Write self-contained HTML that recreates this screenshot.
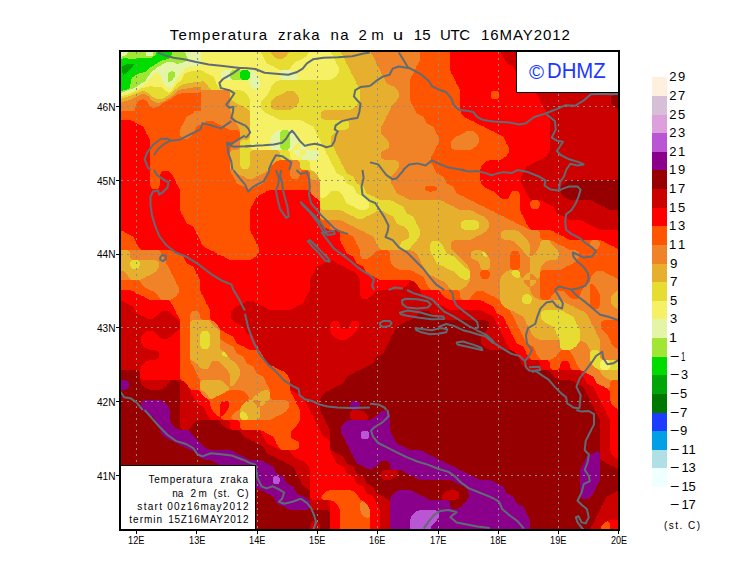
<!DOCTYPE html>
<html><head><meta charset="utf-8"><title>Temperatura zraka na 2m</title>
<style>
html,body{margin:0;padding:0;background:#fff;}
body{width:740px;height:582px;position:relative;overflow:hidden;font-family:"Liberation Sans",sans-serif;color:#000;}
.title{position:absolute;left:0;top:25px;width:740px;text-align:center;font-size:14.5px;letter-spacing:2.3px;word-spacing:3px;white-space:nowrap;}
.ax{position:absolute;font-size:11px;line-height:14px;white-space:nowrap;transform:scaleX(0.82);}
.lg{position:absolute;left:670px;font-size:13px;line-height:16px;white-space:nowrap;}
.info{position:absolute;left:121px;top:465px;width:134px;height:63px;background:#fff;border-top:1px solid #000;border-right:1px solid #000;font-size:10px;line-height:13.7px;text-align:right;letter-spacing:0.8px;box-sizing:content-box;}
.info div{padding-right:7px;white-space:nowrap;}
.dhmz{position:absolute;left:517px;top:52px;width:101px;height:40px;background:#fff;border-left:1px solid #000;border-bottom:1px solid #000;color:#1432ff;font-size:20px;line-height:40px;white-space:nowrap;box-sizing:border-box;}
</style></head><body>
<div style="position:absolute;top:24.60px;font-size:15px;line-height:20px;white-space:pre;left:169.70px;letter-spacing:1.330px;">Temperatura</div><div style="position:absolute;top:24.60px;font-size:15px;line-height:20px;white-space:pre;left:278.00px;letter-spacing:1.237px;">zraka</div><div style="position:absolute;top:24.60px;font-size:15px;line-height:20px;white-space:pre;left:330.62px;letter-spacing:1.250px;">na</div><div style="position:absolute;top:24.60px;font-size:15px;line-height:20px;white-space:pre;left:358.45px;letter-spacing:4.375px;">2m</div><div style="position:absolute;top:24.60px;font-size:15px;line-height:20px;white-space:pre;left:392.51px;transform:scaleX(1.2093);transform-origin:0 0;">u</div><div style="position:absolute;top:24.60px;font-size:15px;line-height:20px;white-space:pre;left:413.68px;letter-spacing:0.275px;">15</div><div style="position:absolute;top:24.60px;font-size:15px;line-height:20px;white-space:pre;left:439.98px;letter-spacing:-0.388px;">UTC</div><div style="position:absolute;top:24.60px;font-size:15px;line-height:20px;white-space:pre;left:481.07px;letter-spacing:0.931px;">16MAY2012</div>
<svg style="position:absolute;left:120px;top:50px" width="500" height="480" viewBox="0 0 500 480" shape-rendering="crispEdges">
<g stroke-width="1" fill="none">
<rect x="0" y="0" width="500" height="480" fill="#960000"/><path stroke="#E4F5A8" d="M0 0.5h9M65 0.5h16M0 1.5h8M65 1.5h16M0 2.5h8M26 2.5h7M65 2.5h16M0 3.5h7M26 3.5h7M66 3.5h15M0 4.5h7M26 4.5h7M66 4.5h15M0 5.5h5M26 5.5h7M66 5.5h15M0 6.5h2M67 6.5h14M67 7.5h14M68 8.5h13M67 9.5h14M66 10.5h15M65 11.5h16M46 12.5h8M63 12.5h18M44 13.5h12M59 13.5h22M42 14.5h39M41 15.5h38M39 16.5h30M37 17.5h30M36 18.5h29M35 19.5h29M33 20.5h31M104 20.5h8M128 20.5h3M162 20.5h9M32 21.5h19M53 21.5h10M102 21.5h9M129 21.5h5M161 21.5h13M31 22.5h6M39 22.5h10M55 22.5h7M101 22.5h9M130 22.5h5M160 22.5h15M30 23.5h5M39 23.5h9M55 23.5h6M101 23.5h9M130 23.5h6M160 23.5h16M30 24.5h4M40 24.5h8M55 24.5h5M101 24.5h9M130 24.5h7M160 24.5h17M29 25.5h4M40 25.5h8M55 25.5h5M101 25.5h9M130 25.5h8M160 25.5h17M28 26.5h4M41 26.5h7M55 26.5h4M101 26.5h9M130 26.5h8M160 26.5h18M27 27.5h4M41 27.5h7M54 27.5h4M101 27.5h9M130 27.5h9M160 27.5h18M27 28.5h3M42 28.5h6M53 28.5h4M102 28.5h9M129 28.5h10M161 28.5h17M26 29.5h3M42 29.5h6M53 29.5h3M104 29.5h8M128 29.5h12M162 29.5h15M26 30.5h2M42 30.5h6M52 30.5h4M128 30.5h12M25 31.5h2M43 31.5h5M50 31.5h5M129 31.5h11M23 32.5h3M43 32.5h11M130 32.5h10M21 33.5h4M44 33.5h10M130 33.5h10M20 34.5h4M44 34.5h9M130 34.5h10M18 35.5h5M45 35.5h8M130 35.5h10M17 36.5h4M47 36.5h5M131 36.5h8M15 37.5h4M49 37.5h1M131 37.5h8M13 38.5h4M132 38.5h6M10 39.5h5M7 40.5h6M5 41.5h6M2 42.5h6M0 43.5h4M159 80.5h3M168 80.5h3M156 81.5h5M169 81.5h5M155 82.5h5M170 82.5h5M154 83.5h6M170 83.5h6M153 84.5h7M170 84.5h7M152 85.5h8M170 85.5h8M151 86.5h9M170 86.5h8M151 87.5h9M170 87.5h9M151 88.5h9M170 88.5h9M150 89.5h10M170 89.5h9M150 90.5h10M170 90.5h10M150 91.5h10M170 91.5h9M150 92.5h10M170 92.5h9M150 93.5h10M170 93.5h7M150 94.5h10M170 94.5h6M180 94.5h3M150 95.5h10M170 95.5h5M180 95.5h4M150 96.5h10M170 96.5h4M180 96.5h5M150 97.5h10M170 97.5h3M180 97.5h6M151 98.5h10M169 98.5h4M180 98.5h7M152 99.5h10M168 99.5h4M180 99.5h7M174 100.5h6M186 100.5h10M174 101.5h6M186 101.5h12M174 102.5h6M186 102.5h13M175 103.5h5M185 103.5h14M176 104.5h4M184 104.5h15M177 105.5h3M183 105.5h16M179 106.5h1M181 106.5h18M181 107.5h18M181 108.5h17M183 109.5h13"/>
<path stroke="#A0E632" d="M9 0.5h28M52 0.5h13M8 1.5h29M52 1.5h13M8 2.5h18M33 2.5h3M52 2.5h13M7 3.5h19M33 3.5h3M52 3.5h14M7 4.5h19M33 4.5h3M52 4.5h14M5 5.5h21M33 5.5h2M51 5.5h15M2 6.5h31M50 6.5h17M0 7.5h32M50 7.5h17M0 8.5h3M8 8.5h8M49 8.5h19M46 9.5h21M42 10.5h24M40 11.5h25M38 12.5h8M54 12.5h9M37 13.5h7M56 13.5h3M35 14.5h7M34 15.5h7M32 16.5h7M30 17.5h7M29 18.5h7M28 19.5h7M27 20.5h6M112 20.5h10M26 21.5h6M51 21.5h2M111 21.5h10M23 22.5h8M49 22.5h6M110 22.5h10M19 23.5h11M48 23.5h7M110 23.5h10M17 24.5h13M48 24.5h7M110 24.5h10M15 25.5h14M48 25.5h7M110 25.5h10M14 26.5h14M48 26.5h7M110 26.5h10M12 27.5h15M48 27.5h6M110 27.5h10M12 28.5h15M48 28.5h5M111 28.5h10M11 29.5h15M48 29.5h5M112 29.5h10M11 30.5h15M48 30.5h4M11 31.5h14M48 31.5h2M11 32.5h12M11 33.5h10M10 34.5h10M10 35.5h8M10 36.5h7M10 37.5h5M9 38.5h4M7 39.5h3M3 40.5h4M0 41.5h5M0 42.5h2M162 80.5h6M161 81.5h8M160 82.5h10M160 83.5h10M160 84.5h10M160 85.5h10M160 86.5h10M160 87.5h10M160 88.5h10M160 89.5h10M160 90.5h10M160 91.5h10M160 92.5h10M160 93.5h10M160 94.5h10M160 95.5h10M160 96.5h10M160 97.5h10M161 98.5h8M162 99.5h6"/>
<path stroke="#00DC00" d="M37 0.5h15M37 1.5h15M36 2.5h16M36 3.5h16M36 4.5h16M35 5.5h16M33 6.5h17M32 7.5h18M3 8.5h5M16 8.5h33M0 9.5h46M0 10.5h42M0 11.5h40M0 12.5h38M0 13.5h37M0 14.5h6M14 14.5h21M0 15.5h4M13 15.5h21M0 16.5h2M13 16.5h19M0 17.5h2M12 17.5h18M0 18.5h2M11 18.5h18M0 19.5h2M10 19.5h18M0 20.5h2M9 20.5h18M122 20.5h6M0 21.5h2M8 21.5h18M121 21.5h8M0 22.5h2M7 22.5h16M120 22.5h10M0 23.5h3M6 23.5h13M120 23.5h10M0 24.5h3M4 24.5h13M120 24.5h10M0 25.5h15M120 25.5h10M0 26.5h14M120 26.5h10M0 27.5h12M120 27.5h10M0 28.5h12M121 28.5h8M0 29.5h11M122 29.5h6M0 30.5h11M0 31.5h11M0 32.5h11M0 33.5h11M0 34.5h10M0 35.5h10M0 36.5h10M0 37.5h10M0 38.5h9M0 39.5h7M0 40.5h3"/>
<path stroke="#F5F064" d="M81 0.5h59M190 0.5h20M81 1.5h60M189 1.5h22M81 2.5h60M189 2.5h22M81 3.5h60M188 3.5h23M81 4.5h61M187 4.5h25M81 5.5h62M187 5.5h26M81 6.5h62M186 6.5h27M81 7.5h63M184 7.5h30M81 8.5h63M183 8.5h31M81 9.5h64M181 9.5h34M81 10.5h64M179 10.5h36M81 11.5h65M176 11.5h40M81 12.5h65M175 12.5h41M81 13.5h66M174 13.5h42M81 14.5h68M173 14.5h44M79 15.5h72M172 15.5h46M69 16.5h85M171 16.5h47M67 17.5h88M171 17.5h48M65 18.5h92M170 18.5h49M64 19.5h95M169 19.5h50M64 20.5h14M81 20.5h23M131 20.5h31M171 20.5h48M63 21.5h8M84 21.5h18M134 21.5h27M174 21.5h45M37 22.5h2M62 22.5h5M85 22.5h16M135 22.5h25M175 22.5h44M35 23.5h4M61 23.5h4M87 23.5h14M136 23.5h24M176 23.5h42M34 24.5h6M60 24.5h4M89 24.5h12M137 24.5h23M177 24.5h40M33 25.5h7M60 25.5h4M91 25.5h10M138 25.5h22M177 25.5h40M32 26.5h9M59 26.5h4M93 26.5h8M138 26.5h22M178 26.5h38M31 27.5h10M58 27.5h5M94 27.5h7M139 27.5h21M178 27.5h36M30 28.5h12M57 28.5h5M94 28.5h8M139 28.5h22M178 28.5h35M29 29.5h13M56 29.5h6M95 29.5h9M140 29.5h22M177 29.5h34M28 30.5h14M56 30.5h5M95 30.5h33M140 30.5h19M27 31.5h16M55 31.5h5M96 31.5h33M140 31.5h16M26 32.5h17M54 32.5h4M96 32.5h34M140 32.5h15M25 33.5h19M54 33.5h3M96 33.5h34M140 33.5h14M24 34.5h20M53 34.5h3M97 34.5h33M140 34.5h13M23 35.5h22M53 35.5h3M98 35.5h32M140 35.5h12M21 36.5h8M33 36.5h14M52 36.5h3M98 36.5h33M139 36.5h12M19 37.5h6M42 37.5h7M50 37.5h4M99 37.5h32M139 37.5h12M17 38.5h4M43 38.5h10M100 38.5h32M138 38.5h13M15 39.5h4M44 39.5h9M101 39.5h49M13 40.5h4M45 40.5h7M121 40.5h29M11 41.5h4M47 41.5h4M124 41.5h25M8 42.5h5M48 42.5h1M125 42.5h24M4 43.5h7M126 43.5h22M0 44.5h8M127 44.5h20M0 45.5h4M128 45.5h19M128 46.5h18M129 47.5h16M129 48.5h15M130 49.5h13M130 50.5h12M130 51.5h11M130 52.5h11M130 53.5h11M130 54.5h11M130 55.5h11M130 56.5h11M130 57.5h11M130 58.5h11M130 59.5h12M130 60.5h13M130 61.5h14M130 62.5h15M130 63.5h17M130 64.5h19M130 65.5h21M130 66.5h24M130 67.5h25M130 68.5h27M130 69.5h29M130 70.5h51M130 71.5h54M130 72.5h55M130 73.5h57M130 74.5h59M130 75.5h61M130 76.5h63M130 77.5h64M130 78.5h64M130 79.5h65M130 80.5h29M171 80.5h24M130 81.5h26M174 81.5h22M130 82.5h25M175 82.5h21M130 83.5h24M176 83.5h20M130 84.5h23M177 84.5h20M130 85.5h22M178 85.5h20M130 86.5h21M178 86.5h20M130 87.5h21M179 87.5h20M130 88.5h21M179 88.5h20M130 89.5h20M179 89.5h21M130 90.5h20M180 90.5h20M130 91.5h20M179 91.5h22M130 92.5h20M179 92.5h22M130 93.5h20M177 93.5h24M130 94.5h20M176 94.5h4M183 94.5h19M130 95.5h20M175 95.5h5M184 95.5h19M130 96.5h20M174 96.5h6M185 96.5h18M130 97.5h20M173 97.5h7M186 97.5h18M131 98.5h20M173 98.5h7M187 98.5h17M132 99.5h20M172 99.5h8M187 99.5h18M168 100.5h6M180 100.5h6M196 100.5h9M169 101.5h5M180 101.5h6M198 101.5h8M170 102.5h4M180 102.5h6M199 102.5h7M170 103.5h5M180 103.5h5M199 103.5h7M170 104.5h6M180 104.5h4M199 104.5h8M170 105.5h7M180 105.5h3M199 105.5h9M170 106.5h9M180 106.5h1M199 106.5h9M170 107.5h11M199 107.5h10M171 108.5h10M198 108.5h11M172 109.5h11M196 109.5h14M188 110.5h22M189 111.5h22M190 112.5h21M190 113.5h21M190 114.5h22M190 115.5h23M190 116.5h23M190 117.5h24M190 118.5h24M191 119.5h24M192 120.5h23M194 121.5h22M195 122.5h21M196 123.5h21M197 124.5h22M198 125.5h23M198 126.5h25M199 127.5h25M199 128.5h25M200 129.5h25M200 130.5h25M200 131.5h26M200 132.5h26M200 133.5h27M200 134.5h29M200 135.5h31M200 136.5h33M200 137.5h34M200 138.5h34M200 139.5h35M200 140.5h35M200 141.5h11M219 141.5h17M200 142.5h10M220 142.5h16M200 143.5h9M221 143.5h16M200 144.5h8M222 144.5h17M200 145.5h7M223 145.5h18M200 146.5h6M223 146.5h21M201 147.5h3M224 147.5h21M224 148.5h22M225 149.5h22M225 150.5h23M226 151.5h22M226 152.5h23M227 153.5h22M229 154.5h20M231 155.5h18M234 156.5h15M235 157.5h14M237 158.5h11M239 159.5h7M482 310.5h6M481 311.5h8M480 312.5h10M480 313.5h10M480 314.5h10M480 315.5h10M480 316.5h10M480 317.5h10M481 318.5h8M482 319.5h6"/>
<path stroke="#E6DC32" d="M140 0.5h10M170 0.5h20M210 0.5h10M141 1.5h10M169 1.5h20M211 1.5h10M141 2.5h10M169 2.5h20M211 2.5h10M141 3.5h10M168 3.5h20M211 3.5h10M142 4.5h10M167 4.5h20M212 4.5h10M143 5.5h10M167 5.5h20M213 5.5h10M143 6.5h11M166 6.5h20M213 6.5h10M144 7.5h11M164 7.5h20M214 7.5h10M144 8.5h13M163 8.5h20M214 8.5h10M145 9.5h36M215 9.5h10M145 10.5h34M215 10.5h10M146 11.5h30M216 11.5h10M146 12.5h29M216 12.5h10M147 13.5h27M216 13.5h10M149 14.5h24M217 14.5h10M151 15.5h21M218 15.5h10M154 16.5h17M218 16.5h10M155 17.5h16M219 17.5h10M157 18.5h13M219 18.5h10M159 19.5h10M219 19.5h11M78 20.5h3M219 20.5h11M71 21.5h13M219 21.5h12M67 22.5h18M219 22.5h12M65 23.5h22M218 23.5h13M64 24.5h25M217 24.5h15M64 25.5h27M217 25.5h16M63 26.5h30M216 26.5h17M63 27.5h31M214 27.5h20M62 28.5h32M213 28.5h21M62 29.5h33M211 29.5h24M61 30.5h34M159 30.5h76M60 31.5h21M84 31.5h12M156 31.5h80M58 32.5h15M85 32.5h11M155 32.5h81M57 33.5h10M86 33.5h10M154 33.5h82M56 34.5h7M87 34.5h10M153 34.5h84M56 35.5h5M88 35.5h10M152 35.5h86M29 36.5h4M55 36.5h4M88 36.5h10M151 36.5h87M25 37.5h17M54 37.5h4M89 37.5h10M151 37.5h88M21 38.5h22M53 38.5h4M90 38.5h10M151 38.5h88M19 39.5h25M53 39.5h2M91 39.5h10M150 39.5h90M17 40.5h28M52 40.5h2M108 40.5h13M150 40.5h90M15 41.5h6M25 41.5h22M51 41.5h2M109 41.5h15M149 41.5h17M174 41.5h66M13 42.5h6M27 42.5h21M49 42.5h3M110 42.5h15M149 42.5h16M175 42.5h65M11 43.5h5M29 43.5h22M110 43.5h16M148 43.5h15M176 43.5h64M8 44.5h6M30 44.5h20M110 44.5h17M147 44.5h14M177 44.5h63M4 45.5h7M31 45.5h17M110 45.5h18M147 45.5h12M178 45.5h62M0 46.5h8M32 46.5h14M110 46.5h18M146 46.5h10M178 46.5h62M0 47.5h5M34 47.5h11M110 47.5h19M145 47.5h10M179 47.5h61M0 48.5h2M36 48.5h7M110 48.5h19M144 48.5h10M179 48.5h61M111 49.5h19M143 49.5h10M179 49.5h61M112 50.5h18M142 50.5h10M179 50.5h61M114 51.5h16M141 51.5h10M179 51.5h60M115 52.5h15M141 52.5h10M179 52.5h60M117 53.5h13M141 53.5h10M178 53.5h60M119 54.5h11M141 54.5h10M177 54.5h60M121 55.5h9M141 55.5h10M177 55.5h60M124 56.5h6M141 56.5h10M176 56.5h60M125 57.5h5M141 57.5h10M174 57.5h60M127 58.5h3M141 58.5h11M173 58.5h60M128 59.5h2M142 59.5h12M171 59.5h60M129 60.5h1M143 60.5h61M144 61.5h58M145 62.5h56M147 63.5h54M149 64.5h52M151 65.5h50M154 66.5h47M155 67.5h46M157 68.5h45M159 69.5h45M181 70.5h45M184 71.5h44M185 72.5h44M187 73.5h42M189 74.5h40M191 75.5h38M193 76.5h36M194 77.5h35M194 78.5h34M195 79.5h31M195 80.5h24M196 81.5h20M196 82.5h19M196 83.5h18M197 84.5h16M198 85.5h14M198 86.5h13M199 87.5h12M129 88.5h1M199 88.5h12M128 89.5h2M200 89.5h11M122 90.5h8M200 90.5h11M121 91.5h9M201 91.5h10M120 92.5h10M201 92.5h10M120 93.5h10M201 93.5h10M120 94.5h10M202 94.5h10M120 95.5h10M203 95.5h10M120 96.5h10M203 96.5h10M120 97.5h10M204 97.5h10M120 98.5h11M204 98.5h10M120 99.5h12M205 99.5h10M120 100.5h12M158 100.5h10M205 100.5h10M120 101.5h11M159 101.5h10M206 101.5h10M120 102.5h10M160 102.5h10M206 102.5h10M120 103.5h10M160 103.5h10M206 103.5h10M120 104.5h10M160 104.5h10M207 104.5h10M120 105.5h10M160 105.5h10M208 105.5h10M120 106.5h10M160 106.5h10M208 106.5h10M120 107.5h10M160 107.5h10M209 107.5h10M120 108.5h10M161 108.5h10M209 108.5h10M120 109.5h10M162 109.5h10M210 109.5h10M120 110.5h10M178 110.5h10M210 110.5h10M120 111.5h10M179 111.5h10M211 111.5h10M120 112.5h10M180 112.5h10M211 112.5h10M120 113.5h10M180 113.5h10M211 113.5h10M120 114.5h10M180 114.5h10M212 114.5h10M120 115.5h10M180 115.5h10M213 115.5h10M121 116.5h8M180 116.5h10M213 116.5h10M121 117.5h8M180 117.5h10M214 117.5h10M122 118.5h6M181 118.5h9M214 118.5h10M182 119.5h9M215 119.5h10M191 120.5h1M215 120.5h10M216 121.5h10M216 122.5h10M217 123.5h10M219 124.5h10M221 125.5h10M223 126.5h10M224 127.5h10M224 128.5h10M225 129.5h10M225 130.5h10M226 131.5h10M226 132.5h10M227 133.5h10M229 134.5h10M231 135.5h10M233 136.5h10M234 137.5h10M234 138.5h10M235 139.5h10M235 140.5h10M211 141.5h8M236 141.5h10M210 142.5h10M236 142.5h10M209 143.5h12M237 143.5h10M208 144.5h14M239 144.5h10M207 145.5h16M241 145.5h10M206 146.5h17M244 146.5h10M200 147.5h1M204 147.5h20M245 147.5h10M200 148.5h24M246 148.5h11M200 149.5h25M247 149.5h12M200 150.5h25M248 150.5h23M200 151.5h26M248 151.5h26M200 152.5h26M249 152.5h26M200 153.5h27M249 153.5h28M200 154.5h29M249 154.5h30M200 155.5h31M249 155.5h32M200 156.5h34M249 156.5h34M200 157.5h35M249 157.5h35M201 158.5h36M248 158.5h36M202 159.5h37M246 159.5h39M221 160.5h64M224 161.5h32M264 161.5h22M225 162.5h30M265 162.5h21M227 163.5h26M267 163.5h20M229 164.5h22M269 164.5h20M231 165.5h18M271 165.5h20M234 166.5h12M273 166.5h20M235 167.5h10M274 167.5h20M237 168.5h6M274 168.5h20M275 169.5h20M275 170.5h20M344 170.5h12M276 171.5h20M342 171.5h16M276 172.5h20M341 172.5h18M277 173.5h19M341 173.5h18M279 174.5h18M341 174.5h18M281 175.5h17M341 175.5h18M284 176.5h14M341 176.5h18M285 177.5h14M341 177.5h18M286 178.5h13M342 178.5h16M287 179.5h13M344 179.5h12M288 180.5h12M288 181.5h12M289 182.5h11M289 183.5h11M289 184.5h11M289 185.5h11M289 186.5h10M289 187.5h10M288 188.5h10M286 189.5h11M284 190.5h13M282 191.5h14M312 191.5h7M281 192.5h14M311 192.5h9M281 193.5h13M311 193.5h10M280 194.5h13M310 194.5h12M280 195.5h12M310 195.5h13M280 196.5h11M310 196.5h13M280 197.5h11M310 197.5h14M281 198.5h9M310 198.5h14M282 199.5h7M310 199.5h15M310 200.5h15M311 201.5h15M311 202.5h15M362 202.5h3M311 203.5h16M362 203.5h4M312 204.5h17M362 204.5h4M313 205.5h18M363 205.5h4M313 206.5h21M365 206.5h2M314 207.5h21M314 208.5h22M315 209.5h22M12 210.5h6M315 210.5h23M11 211.5h8M316 211.5h23M10 212.5h10M316 212.5h24M10 213.5h10M317 213.5h24M10 214.5h10M319 214.5h23M10 215.5h10M321 215.5h22M11 216.5h8M324 216.5h20M11 217.5h8M325 217.5h20M12 218.5h6M327 218.5h20M329 219.5h19M331 220.5h18M393 220.5h5M334 221.5h16M392 221.5h7M335 222.5h15M391 222.5h9M336 223.5h14M392 223.5h8M337 224.5h13M392 224.5h8M338 225.5h12M393 225.5h7M339 226.5h11M394 226.5h6M340 227.5h10M396 227.5h3M342 228.5h7M344 229.5h4M405 244.5h4M403 245.5h7M403 246.5h8M402 247.5h10M402 248.5h10M402 249.5h10M402 250.5h10M402 251.5h9M403 252.5h8M404 253.5h6M424 260.5h17M422 261.5h22M421 262.5h24M421 263.5h26M421 264.5h28M421 265.5h30M421 266.5h32M421 267.5h33M421 268.5h33M422 269.5h33M423 270.5h32M424 271.5h32M425 272.5h31M427 273.5h29M429 274.5h28M431 275.5h27M433 276.5h25M434 277.5h25M434 278.5h25M435 279.5h25M435 280.5h25M82 281.5h6M436 281.5h24M81 282.5h8M436 282.5h24M81 283.5h8M436 283.5h24M80 284.5h10M437 284.5h23M80 285.5h10M438 285.5h22M80 286.5h10M438 286.5h22M80 287.5h10M439 287.5h21M80 288.5h10M439 288.5h21M80 289.5h10M440 289.5h20M80 290.5h10M440 290.5h20M80 291.5h10M440 291.5h19M80 292.5h10M440 292.5h19M80 293.5h10M440 293.5h18M80 294.5h10M440 294.5h17M80 295.5h10M440 295.5h17M81 296.5h8M440 296.5h16M81 297.5h8M440 297.5h14M82 298.5h6M441 298.5h12M442 299.5h9M472 300.5h6M471 301.5h8M102 302.5h3M470 302.5h10M102 303.5h4M470 303.5h10M102 304.5h4M470 304.5h10M103 305.5h4M470 305.5h10M105 306.5h2M470 306.5h10M470 307.5h10M470 308.5h11M470 309.5h12M470 310.5h12M488 310.5h12M471 311.5h10M489 311.5h11M471 312.5h9M490 312.5h10M471 313.5h9M490 313.5h10M472 314.5h8M490 314.5h10M473 315.5h7M490 315.5h10M474 316.5h6M490 316.5h10M475 317.5h5M490 317.5h10M477 318.5h4M489 318.5h11M479 319.5h3M488 319.5h12M122 361.5h1M121 362.5h4M120 363.5h6M120 364.5h7M120 365.5h7M120 366.5h8M120 367.5h8M121 368.5h7M122 369.5h5"/>
<path stroke="#E6AF2D" d="M150 0.5h20M220 0.5h30M151 1.5h18M221 1.5h30M151 2.5h18M221 2.5h30M151 3.5h17M221 3.5h30M152 4.5h15M222 4.5h30M153 5.5h14M223 5.5h30M154 6.5h12M223 6.5h30M155 7.5h9M224 7.5h30M157 8.5h6M224 8.5h30M225 9.5h30M225 10.5h30M226 11.5h30M226 12.5h30M226 13.5h30M227 14.5h30M228 15.5h30M228 16.5h30M229 17.5h30M229 18.5h30M230 19.5h30M230 20.5h30M231 21.5h30M231 22.5h30M231 23.5h30M232 24.5h30M233 25.5h30M233 26.5h30M234 27.5h30M234 28.5h30M235 29.5h30M235 30.5h30M81 31.5h3M236 31.5h30M73 32.5h12M236 32.5h30M67 33.5h19M236 33.5h31M63 34.5h24M237 34.5h32M61 35.5h27M238 35.5h33M59 36.5h29M238 36.5h36M58 37.5h15M81 37.5h8M239 37.5h36M57 38.5h10M81 38.5h9M239 38.5h37M55 39.5h6M81 39.5h10M240 39.5h37M54 40.5h4M240 40.5h38M21 41.5h4M53 41.5h4M166 41.5h8M240 41.5h38M19 42.5h8M52 42.5h4M165 42.5h10M240 42.5h39M16 43.5h13M51 43.5h4M163 43.5h13M240 43.5h39M14 44.5h7M25 44.5h5M50 44.5h4M161 44.5h16M240 44.5h39M11 45.5h8M27 45.5h4M48 45.5h5M159 45.5h19M240 45.5h39M8 46.5h9M29 46.5h3M46 46.5h5M156 46.5h22M240 46.5h39M5 47.5h10M30 47.5h4M45 47.5h5M155 47.5h24M240 47.5h39M2 48.5h11M30 48.5h6M43 48.5h5M154 48.5h25M240 48.5h38M0 49.5h11M31 49.5h15M110 49.5h1M153 49.5h26M240 49.5h37M0 50.5h8M32 50.5h13M110 50.5h2M152 50.5h27M240 50.5h37M0 51.5h4M34 51.5h9M110 51.5h4M151 51.5h28M239 51.5h37M36 52.5h4M110 52.5h5M151 52.5h28M239 52.5h36M110 53.5h7M151 53.5h27M238 53.5h36M110 54.5h9M151 54.5h26M237 54.5h36M110 55.5h11M151 55.5h26M237 55.5h35M110 56.5h14M151 56.5h25M236 56.5h35M110 57.5h15M151 57.5h23M234 57.5h37M110 58.5h17M152 58.5h21M233 58.5h38M110 59.5h18M154 59.5h17M231 59.5h39M110 60.5h19M204 60.5h66M111 61.5h19M202 61.5h67M111 62.5h19M201 62.5h68M111 63.5h19M201 63.5h67M112 64.5h18M201 64.5h67M113 65.5h17M201 65.5h66M113 66.5h17M201 66.5h65M114 67.5h16M201 67.5h65M114 68.5h16M202 68.5h64M115 69.5h15M204 69.5h61M115 70.5h15M226 70.5h39M116 71.5h14M228 71.5h36M116 72.5h14M229 72.5h35M116 73.5h14M229 73.5h34M117 74.5h13M229 74.5h34M118 75.5h12M229 75.5h33M118 76.5h12M229 76.5h32M119 77.5h11M229 77.5h32M119 78.5h11M228 78.5h33M120 79.5h10M226 79.5h35M120 80.5h10M219 80.5h42M120 81.5h10M216 81.5h45M120 82.5h10M215 82.5h46M120 83.5h10M214 83.5h47M120 84.5h10M213 84.5h49M120 85.5h10M212 85.5h51M120 86.5h10M211 86.5h53M120 87.5h10M211 87.5h54M120 88.5h9M211 88.5h55M120 89.5h8M211 89.5h56M120 90.5h2M211 90.5h57M120 91.5h1M211 91.5h57M211 92.5h58M211 93.5h58M212 94.5h57M213 95.5h56M213 96.5h56M214 97.5h55M119 98.5h1M214 98.5h54M118 99.5h2M215 99.5h51M112 100.5h8M132 100.5h26M215 100.5h49M111 101.5h9M131 101.5h28M216 101.5h46M110 102.5h10M130 102.5h30M216 102.5h45M110 103.5h10M130 103.5h30M216 103.5h45M110 104.5h10M130 104.5h30M217 104.5h44M110 105.5h10M130 105.5h30M218 105.5h43M110 106.5h10M130 106.5h30M218 106.5h43M110 107.5h10M130 107.5h30M219 107.5h42M110 108.5h10M130 108.5h31M219 108.5h43M110 109.5h10M130 109.5h32M220 109.5h44M110 110.5h10M130 110.5h29M220 110.5h56M110 111.5h10M130 111.5h26M221 111.5h57M110 112.5h10M130 112.5h25M221 112.5h58M110 113.5h10M130 113.5h24M221 113.5h58M110 114.5h10M130 114.5h23M222 114.5h57M110 115.5h10M130 115.5h22M223 115.5h56M110 116.5h11M129 116.5h22M223 116.5h56M110 117.5h11M129 117.5h22M224 117.5h55M110 118.5h12M128 118.5h22M224 118.5h54M111 119.5h39M225 119.5h52M112 120.5h36M188 120.5h3M225 120.5h52M114 121.5h32M189 121.5h5M226 121.5h50M115 122.5h30M190 122.5h5M226 122.5h49M117 123.5h26M190 123.5h6M227 123.5h47M119 124.5h22M190 124.5h7M229 124.5h44M121 125.5h18M190 125.5h8M231 125.5h41M124 126.5h12M190 126.5h8M233 126.5h38M125 127.5h10M190 127.5h9M234 127.5h37M127 128.5h6M191 128.5h8M234 128.5h37M192 129.5h8M235 129.5h36M198 130.5h2M235 130.5h36M199 131.5h1M236 131.5h35M236 132.5h35M237 133.5h34M239 134.5h33M241 135.5h32M243 136.5h30M244 137.5h30M244 138.5h30M245 139.5h30M245 140.5h30M246 141.5h30M246 142.5h30M247 143.5h30M249 144.5h30M251 145.5h30M254 146.5h30M255 147.5h30M257 148.5h30M259 149.5h30M271 150.5h50M274 151.5h50M275 152.5h50M277 153.5h50M279 154.5h50M281 155.5h50M283 156.5h51M284 157.5h51M200 158.5h1M284 158.5h53M200 159.5h2M285 159.5h54M200 160.5h21M285 160.5h66M200 161.5h24M256 161.5h8M286 161.5h68M200 162.5h25M255 162.5h10M286 162.5h69M200 163.5h27M253 163.5h14M287 163.5h70M200 164.5h29M251 164.5h18M289 164.5h70M200 165.5h31M249 165.5h22M291 165.5h70M200 166.5h34M246 166.5h27M293 166.5h71M200 167.5h35M245 167.5h29M294 167.5h71M201 168.5h36M243 168.5h31M294 168.5h72M202 169.5h73M295 169.5h72M221 170.5h54M295 170.5h49M356 170.5h12M224 171.5h52M296 171.5h46M358 171.5h10M225 172.5h51M296 172.5h45M359 172.5h10M227 173.5h50M296 173.5h45M359 173.5h10M229 174.5h50M297 174.5h44M359 174.5h10M231 175.5h50M298 175.5h43M359 175.5h10M234 176.5h50M298 176.5h43M359 176.5h10M235 177.5h50M299 177.5h42M359 177.5h10M237 178.5h49M299 178.5h43M358 178.5h10M239 179.5h48M300 179.5h44M356 179.5h11M241 180.5h47M300 180.5h67M384 180.5h12M244 181.5h44M300 181.5h66M382 181.5h17M245 182.5h44M300 182.5h64M381 182.5h19M247 183.5h42M300 183.5h63M381 183.5h20M249 184.5h40M300 184.5h61M381 184.5h21M251 185.5h38M300 185.5h59M381 185.5h22M253 186.5h36M299 186.5h57M381 186.5h23M254 187.5h35M299 187.5h56M381 187.5h24M254 188.5h34M298 188.5h55M382 188.5h24M255 189.5h31M297 189.5h54M384 189.5h23M255 190.5h29M297 190.5h37M391 190.5h17M422 190.5h7M256 191.5h26M296 191.5h16M319 191.5h13M394 191.5h14M421 191.5h9M256 192.5h25M295 192.5h16M320 192.5h11M395 192.5h14M420 192.5h11M256 193.5h25M294 193.5h17M321 193.5h10M396 193.5h13M420 193.5h11M257 194.5h23M293 194.5h17M322 194.5h9M397 194.5h13M420 194.5h12M258 195.5h22M292 195.5h18M323 195.5h8M398 195.5h12M420 195.5h13M258 196.5h22M291 196.5h19M323 196.5h8M399 196.5h11M419 196.5h15M259 197.5h21M291 197.5h19M324 197.5h7M400 197.5h10M419 197.5h16M260 198.5h21M290 198.5h20M324 198.5h7M401 198.5h9M418 198.5h18M261 199.5h21M289 199.5h21M325 199.5h7M402 199.5h8M418 199.5h19M0 200.5h8M291 200.5h19M325 200.5h8M354 200.5h7M403 200.5h7M417 200.5h21M0 201.5h9M294 201.5h17M326 201.5h8M352 201.5h12M403 201.5h7M416 201.5h22M0 202.5h10M295 202.5h16M326 202.5h9M351 202.5h11M404 202.5h6M416 202.5h23M0 203.5h10M296 203.5h15M327 203.5h9M351 203.5h11M405 203.5h5M415 203.5h24M0 204.5h10M297 204.5h15M329 204.5h8M351 204.5h11M366 204.5h1M406 204.5h4M414 204.5h25M0 205.5h10M298 205.5h15M331 205.5h7M351 205.5h12M367 205.5h1M407 205.5h3M413 205.5h26M0 206.5h10M298 206.5h15M334 206.5h5M351 206.5h14M367 206.5h1M408 206.5h31M0 207.5h10M299 207.5h15M335 207.5h5M351 207.5h18M410 207.5h29M0 208.5h11M299 208.5h15M336 208.5h5M352 208.5h17M410 208.5h28M0 209.5h12M300 209.5h15M337 209.5h5M354 209.5h16M410 209.5h26M0 210.5h12M18 210.5h18M300 210.5h15M338 210.5h5M356 210.5h14M410 210.5h19M0 211.5h11M19 211.5h19M301 211.5h15M339 211.5h5M358 211.5h12M410 211.5h16M0 212.5h10M20 212.5h19M301 212.5h15M340 212.5h5M359 212.5h11M410 212.5h15M0 213.5h10M20 213.5h19M301 213.5h16M341 213.5h5M359 213.5h11M410 213.5h14M0 214.5h10M20 214.5h19M302 214.5h17M342 214.5h5M360 214.5h10M410 214.5h13M0 215.5h10M20 215.5h19M303 215.5h18M343 215.5h5M360 215.5h10M410 215.5h12M0 216.5h11M19 216.5h20M303 216.5h21M344 216.5h4M360 216.5h10M410 216.5h11M0 217.5h11M19 217.5h20M304 217.5h21M345 217.5h4M360 217.5h10M410 217.5h11M0 218.5h12M18 218.5h20M304 218.5h23M347 218.5h2M361 218.5h8M410 218.5h11M0 219.5h37M305 219.5h24M348 219.5h2M362 219.5h6M410 219.5h10M1 220.5h36M305 220.5h26M349 220.5h1M389 220.5h4M410 220.5h10M4 221.5h32M306 221.5h28M386 221.5h6M410 221.5h10M5 222.5h29M306 222.5h29M385 222.5h6M409 222.5h11M6 223.5h27M307 223.5h29M384 223.5h8M407 223.5h13M7 224.5h24M309 224.5h28M383 224.5h9M406 224.5h4M413 224.5h7M8 225.5h21M311 225.5h27M382 225.5h11M405 225.5h5M414 225.5h6M8 226.5h18M314 226.5h25M381 226.5h13M400 226.5h1M404 226.5h6M415 226.5h5M9 227.5h16M315 227.5h25M381 227.5h15M399 227.5h2M403 227.5h7M416 227.5h3M10 228.5h13M317 228.5h25M349 228.5h1M381 228.5h29M417 228.5h1M11 229.5h10M319 229.5h25M348 229.5h2M380 229.5h30M321 230.5h29M380 230.5h24M410 230.5h6M324 231.5h25M380 231.5h24M410 231.5h6M325 232.5h24M380 232.5h24M410 232.5h6M326 233.5h22M380 233.5h25M410 233.5h5M327 234.5h20M380 234.5h26M410 234.5h4M328 235.5h19M380 235.5h27M410 235.5h3M328 236.5h18M380 236.5h28M329 237.5h15M380 237.5h30M330 238.5h13M380 238.5h30M331 239.5h10M380 239.5h30M380 240.5h30M499 240.5h1M380 241.5h31M496 241.5h4M380 242.5h31M495 242.5h5M380 243.5h31M494 243.5h6M380 244.5h25M409 244.5h3M493 244.5h7M380 245.5h23M410 245.5h3M492 245.5h8M380 246.5h23M411 246.5h3M491 246.5h9M380 247.5h22M412 247.5h3M491 247.5h9M380 248.5h22M412 248.5h5M491 248.5h9M380 249.5h22M412 249.5h7M491 249.5h9M380 250.5h22M412 250.5h29M491 250.5h9M381 251.5h21M411 251.5h33M491 251.5h9M381 252.5h22M411 252.5h34M491 252.5h9M381 253.5h23M410 253.5h37M491 253.5h9M382 254.5h67M492 254.5h8M383 255.5h68M493 255.5h7M384 256.5h70M494 256.5h6M385 257.5h70M495 257.5h5M387 258.5h70M497 258.5h3M389 259.5h70M499 259.5h1M391 260.5h33M441 260.5h20M394 261.5h28M444 261.5h20M395 262.5h26M445 262.5h20M397 263.5h24M447 263.5h19M399 264.5h22M449 264.5h18M401 265.5h20M451 265.5h17M403 266.5h18M453 266.5h15M404 267.5h17M454 267.5h15M404 268.5h17M454 268.5h15M405 269.5h17M455 269.5h15M72 270.5h17M405 270.5h18M455 270.5h15M71 271.5h19M406 271.5h18M456 271.5h15M70 272.5h21M406 272.5h19M456 272.5h15M70 273.5h21M406 273.5h21M456 273.5h15M70 274.5h22M407 274.5h22M457 274.5h15M70 275.5h23M408 275.5h23M458 275.5h15M70 276.5h24M408 276.5h25M458 276.5h15M70 277.5h25M409 277.5h25M459 277.5h15M70 278.5h27M409 278.5h25M459 278.5h15M70 279.5h28M410 279.5h25M460 279.5h15M70 280.5h29M410 280.5h25M460 280.5h15M70 281.5h12M88 281.5h12M411 281.5h25M460 281.5h16M70 282.5h11M89 282.5h11M411 282.5h25M460 282.5h16M70 283.5h11M89 283.5h11M411 283.5h25M460 283.5h16M70 284.5h10M90 284.5h10M412 284.5h25M460 284.5h17M70 285.5h10M90 285.5h10M413 285.5h25M460 285.5h18M70 286.5h10M90 286.5h10M414 286.5h24M460 286.5h18M70 287.5h10M90 287.5h10M415 287.5h24M460 287.5h19M70 288.5h10M90 288.5h10M417 288.5h22M460 288.5h19M70 289.5h10M90 289.5h10M419 289.5h21M460 289.5h20M70 290.5h10M90 290.5h10M438 290.5h2M460 290.5h20M70 291.5h10M90 291.5h10M439 291.5h1M459 291.5h1M463 291.5h17M70 292.5h10M90 292.5h10M465 292.5h15M70 293.5h10M90 293.5h10M466 293.5h14M70 294.5h10M90 294.5h10M467 294.5h13M70 295.5h10M90 295.5h10M468 295.5h12M70 296.5h11M89 296.5h11M468 296.5h12M70 297.5h11M89 297.5h11M469 297.5h11M70 298.5h12M88 298.5h12M469 298.5h11M70 299.5h31M470 299.5h10M70 300.5h32M470 300.5h2M478 300.5h2M70 301.5h34M470 301.5h1M479 301.5h1M70 302.5h32M70 303.5h32M70 304.5h32M106 304.5h1M70 305.5h33M107 305.5h1M70 306.5h35M107 306.5h1M70 307.5h39M70 308.5h40M71 309.5h39M72 310.5h40M74 311.5h18M99 311.5h15M75 312.5h16M100 312.5h15M76 313.5h15M101 313.5h15M77 314.5h13M102 314.5h15M78 315.5h12M103 315.5h15M79 316.5h10M104 316.5h14M80 317.5h9M105 317.5h14M82 318.5h6M106 318.5h13M107 319.5h13M478 319.5h1M108 320.5h12M480 320.5h20M108 321.5h12M480 321.5h20M109 322.5h11M481 322.5h19M109 323.5h11M481 323.5h19M110 324.5h10M482 324.5h18M110 325.5h10M483 325.5h17M110 326.5h9M484 326.5h16M110 327.5h9M485 327.5h15M110 328.5h8M487 328.5h13M110 329.5h8M489 329.5h11M82 330.5h19M110 330.5h7M81 331.5h22M110 331.5h6M80 332.5h24M110 332.5h6M80 333.5h25M110 333.5h5M80 334.5h26M110 334.5h4M80 335.5h27M110 335.5h3M80 336.5h28M80 337.5h29M80 338.5h29M81 339.5h28M82 340.5h26M144 340.5h4M84 341.5h22M141 341.5h8M85 342.5h20M140 342.5h10M86 343.5h17M138 343.5h12M87 344.5h14M137 344.5h13M88 345.5h11M135 345.5h15M88 346.5h8M134 346.5h16M89 347.5h6M133 347.5h17M90 348.5h3M133 348.5h17M132 349.5h17M129 350.5h5M138 350.5h10M126 351.5h8M139 351.5h8M125 352.5h9M140 352.5h6M124 353.5h11M140 353.5h5M123 354.5h13M140 354.5h4M122 355.5h15M140 355.5h3M121 356.5h17M121 357.5h19M121 358.5h19M120 359.5h20M120 360.5h20M120 361.5h2M123 361.5h17M120 362.5h1M125 362.5h15M126 363.5h14M127 364.5h13M127 365.5h13M128 366.5h12M128 367.5h12M128 368.5h11M127 369.5h11"/>
<path stroke="#F08228" d="M250 0.5h50M251 1.5h49M251 2.5h49M251 3.5h49M252 4.5h48M253 5.5h47M253 6.5h47M254 7.5h46M254 8.5h46M255 9.5h45M255 10.5h45M256 11.5h43M256 12.5h43M256 13.5h42M257 14.5h41M258 15.5h39M258 16.5h38M259 17.5h37M259 18.5h37M260 19.5h35M260 20.5h35M261 21.5h33M261 22.5h33M261 23.5h32M262 24.5h31M263 25.5h29M263 26.5h28M264 27.5h27M264 28.5h27M265 29.5h25M265 30.5h25M266 31.5h24M266 32.5h24M267 33.5h23M269 34.5h21M271 35.5h19M274 36.5h16M73 37.5h8M275 37.5h15M67 38.5h14M276 38.5h14M61 39.5h20M277 39.5h13M58 40.5h50M278 40.5h12M57 41.5h52M278 41.5h12M56 42.5h23M81 42.5h29M279 42.5h11M55 43.5h6M81 43.5h29M279 43.5h11M21 44.5h4M54 44.5h3M81 44.5h29M279 44.5h11M19 45.5h8M53 45.5h3M81 45.5h29M279 45.5h11M17 46.5h12M51 46.5h3M81 46.5h29M279 46.5h11M15 47.5h15M50 47.5h3M81 47.5h29M279 47.5h11M13 48.5h17M48 48.5h4M81 48.5h29M278 48.5h12M11 49.5h11M24 49.5h7M46 49.5h4M81 49.5h29M277 49.5h13M8 50.5h11M26 50.5h6M45 50.5h3M81 50.5h29M277 50.5h13M4 51.5h14M27 51.5h7M43 51.5h3M81 51.5h29M276 51.5h15M0 52.5h17M28 52.5h8M40 52.5h4M81 52.5h29M275 52.5h16M0 53.5h17M28 53.5h14M81 53.5h29M274 53.5h17M0 54.5h16M29 54.5h12M81 54.5h29M273 54.5h19M0 55.5h16M29 55.5h11M81 55.5h29M272 55.5h21M0 56.5h16M30 56.5h8M81 56.5h29M271 56.5h22M0 57.5h15M32 57.5h3M81 57.5h29M271 57.5h23M0 58.5h15M81 58.5h29M271 58.5h23M0 59.5h15M81 59.5h29M270 59.5h25M0 60.5h15M81 60.5h29M270 60.5h25M74 61.5h37M269 61.5h27M74 62.5h37M269 62.5h27M73 63.5h38M268 63.5h29M71 64.5h41M268 64.5h31M69 65.5h44M267 65.5h34M67 66.5h46M266 66.5h37M66 67.5h48M266 67.5h38M66 68.5h48M266 68.5h38M65 69.5h50M265 69.5h40M65 70.5h50M265 70.5h40M64 71.5h22M94 71.5h22M264 71.5h42M64 72.5h21M95 72.5h21M264 72.5h42M63 73.5h20M97 73.5h19M263 73.5h44M63 74.5h18M99 74.5h18M263 74.5h46M62 75.5h17M101 75.5h17M262 75.5h49M61 76.5h16M104 76.5h14M261 76.5h52M61 77.5h15M105 77.5h14M261 77.5h53M61 78.5h15M107 78.5h12M261 78.5h53M60 79.5h15M109 79.5h11M261 79.5h54M60 80.5h15M118 80.5h2M261 80.5h54M60 81.5h14M119 81.5h1M261 81.5h55M346 81.5h8M60 82.5h14M261 82.5h55M345 82.5h10M60 83.5h13M261 83.5h55M343 83.5h13M60 84.5h12M262 84.5h55M341 84.5h16M60 85.5h12M263 85.5h55M339 85.5h19M61 86.5h10M264 86.5h54M336 86.5h22M61 87.5h8M265 87.5h54M335 87.5h24M62 88.5h6M266 88.5h53M334 88.5h25M119 89.5h1M267 89.5h52M333 89.5h26M118 90.5h2M268 90.5h51M332 90.5h27M116 91.5h4M268 91.5h51M331 91.5h28M115 92.5h5M269 92.5h50M331 92.5h28M114 93.5h6M269 93.5h49M331 93.5h27M113 94.5h7M269 94.5h49M331 94.5h26M112 95.5h8M269 95.5h48M331 95.5h26M111 96.5h9M269 96.5h47M331 96.5h25M111 97.5h9M269 97.5h47M331 97.5h23M111 98.5h8M268 98.5h48M332 98.5h21M110 99.5h8M266 99.5h49M334 99.5h17M110 100.5h2M264 100.5h51M110 101.5h1M262 101.5h52M261 102.5h53M261 103.5h52M261 104.5h52M261 105.5h51M261 106.5h50M261 107.5h50M262 108.5h49M264 109.5h47M168 110.5h10M276 110.5h35M169 111.5h10M278 111.5h33M170 112.5h10M279 112.5h32M170 113.5h10M279 113.5h32M170 114.5h10M279 114.5h33M170 115.5h10M279 115.5h34M170 116.5h10M279 116.5h34M170 117.5h10M279 117.5h35M150 118.5h1M170 118.5h11M278 118.5h36M110 119.5h1M170 119.5h12M277 119.5h38M110 120.5h2M148 120.5h2M170 120.5h12M277 120.5h38M111 121.5h3M146 121.5h3M170 121.5h11M276 121.5h40M111 122.5h4M145 122.5h4M170 122.5h10M275 122.5h41M111 123.5h6M143 123.5h5M170 123.5h10M274 123.5h43M112 124.5h7M141 124.5h7M170 124.5h10M273 124.5h46M113 125.5h8M139 125.5h8M170 125.5h10M272 125.5h49M113 126.5h11M136 126.5h10M171 126.5h8M271 126.5h52M114 127.5h11M135 127.5h11M171 127.5h8M271 127.5h53M114 128.5h13M133 128.5h13M172 128.5h6M190 128.5h1M271 128.5h53M115 129.5h30M190 129.5h2M271 129.5h54M115 130.5h30M190 130.5h8M271 130.5h54M116 131.5h28M190 131.5h9M271 131.5h55M116 132.5h28M190 132.5h10M271 132.5h55M117 133.5h26M190 133.5h10M271 133.5h56M119 134.5h22M190 134.5h10M272 134.5h57M121 135.5h18M190 135.5h10M273 135.5h58M124 136.5h12M190 136.5h10M273 136.5h33M315 136.5h18M125 137.5h10M190 137.5h10M274 137.5h31M317 137.5h17M127 138.5h6M190 138.5h10M274 138.5h31M317 138.5h17M190 139.5h10M275 139.5h30M317 139.5h18M190 140.5h10M275 140.5h31M316 140.5h19M191 141.5h9M276 141.5h33M312 141.5h24M191 142.5h9M276 142.5h60M191 143.5h9M277 143.5h60M192 144.5h8M279 144.5h60M193 145.5h7M281 145.5h60M194 146.5h6M284 146.5h60M195 147.5h5M285 147.5h60M197 148.5h3M287 148.5h60M198 149.5h2M289 149.5h60M199 150.5h1M321 150.5h30M324 151.5h30M325 152.5h30M327 153.5h30M329 154.5h30M331 155.5h30M334 156.5h30M335 157.5h30M337 158.5h30M339 159.5h30M351 160.5h20M354 161.5h20M355 162.5h20M357 163.5h20M359 164.5h20M361 165.5h20M364 166.5h20M365 167.5h20M366 168.5h21M367 169.5h22M208 170.5h13M368 170.5h23M209 171.5h15M368 171.5h26M210 172.5h15M369 172.5h26M210 173.5h17M369 173.5h28M210 174.5h19M369 174.5h30M210 175.5h21M369 175.5h32M210 176.5h24M369 176.5h35M210 177.5h25M369 177.5h36M211 178.5h26M368 178.5h39M212 179.5h27M367 179.5h42M221 180.5h20M367 180.5h17M396 180.5h22M224 181.5h20M366 181.5h16M399 181.5h20M225 182.5h20M364 182.5h17M400 182.5h20M227 183.5h20M363 183.5h18M401 183.5h19M229 184.5h20M361 184.5h20M402 184.5h18M231 185.5h20M359 185.5h22M403 185.5h17M233 186.5h20M356 186.5h25M404 186.5h16M234 187.5h20M355 187.5h26M405 187.5h15M234 188.5h20M353 188.5h29M406 188.5h15M235 189.5h20M351 189.5h33M407 189.5h15M235 190.5h20M334 190.5h57M408 190.5h14M429 190.5h2M472 190.5h6M236 191.5h20M332 191.5h62M408 191.5h13M430 191.5h4M471 191.5h8M236 192.5h20M331 192.5h64M409 192.5h11M431 192.5h4M470 192.5h10M236 193.5h20M331 193.5h65M409 193.5h11M431 193.5h6M470 193.5h10M237 194.5h20M331 194.5h66M410 194.5h10M432 194.5h7M470 194.5h10M238 195.5h20M331 195.5h67M410 195.5h10M433 195.5h8M470 195.5h10M238 196.5h20M331 196.5h68M410 196.5h9M434 196.5h10M471 196.5h8M239 197.5h20M331 197.5h69M410 197.5h9M435 197.5h10M471 197.5h8M239 198.5h21M331 198.5h70M410 198.5h8M436 198.5h11M472 198.5h6M240 199.5h21M332 199.5h70M410 199.5h8M437 199.5h12M8 200.5h31M240 200.5h19M268 200.5h23M333 200.5h21M361 200.5h42M410 200.5h7M438 200.5h18M9 201.5h31M240 201.5h16M269 201.5h25M334 201.5h18M364 201.5h28M398 201.5h5M410 201.5h6M438 201.5h20M10 202.5h31M240 202.5h15M270 202.5h25M335 202.5h16M365 202.5h26M399 202.5h5M410 202.5h6M439 202.5h20M10 203.5h31M240 203.5h14M270 203.5h26M336 203.5h15M366 203.5h25M399 203.5h6M410 203.5h5M439 203.5h20M10 204.5h32M240 204.5h13M270 204.5h27M337 204.5h14M367 204.5h23M400 204.5h6M410 204.5h4M439 204.5h20M10 205.5h33M240 205.5h12M270 205.5h28M338 205.5h13M368 205.5h22M400 205.5h7M410 205.5h3M439 205.5h20M10 206.5h33M241 206.5h10M270 206.5h28M339 206.5h12M368 206.5h22M400 206.5h8M439 206.5h20M10 207.5h34M241 207.5h8M270 207.5h29M340 207.5h11M369 207.5h21M400 207.5h10M439 207.5h20M11 208.5h33M242 208.5h6M270 208.5h29M341 208.5h11M369 208.5h21M400 208.5h10M438 208.5h20M12 209.5h33M270 209.5h30M342 209.5h12M370 209.5h20M400 209.5h10M436 209.5h21M36 210.5h9M270 210.5h30M343 210.5h13M370 210.5h20M400 210.5h10M429 210.5h28M38 211.5h8M271 211.5h30M344 211.5h14M370 211.5h20M400 211.5h10M426 211.5h30M39 212.5h7M271 212.5h30M345 212.5h14M370 212.5h20M400 212.5h10M425 212.5h29M39 213.5h7M271 213.5h30M346 213.5h13M370 213.5h20M400 213.5h10M424 213.5h29M39 214.5h8M272 214.5h30M347 214.5h13M370 214.5h20M400 214.5h10M423 214.5h28M39 215.5h9M273 215.5h30M348 215.5h12M370 215.5h20M400 215.5h10M422 215.5h27M39 216.5h9M274 216.5h29M348 216.5h12M370 216.5h20M400 216.5h10M421 216.5h25M39 217.5h10M275 217.5h29M349 217.5h11M370 217.5h20M400 217.5h10M421 217.5h24M38 218.5h11M277 218.5h27M349 218.5h12M369 218.5h22M399 218.5h11M421 218.5h22M37 219.5h13M279 219.5h26M350 219.5h12M368 219.5h24M398 219.5h12M420 219.5h21M0 220.5h1M37 220.5h13M291 220.5h14M350 220.5h12M368 220.5h21M398 220.5h12M420 220.5h2M0 221.5h4M36 221.5h15M294 221.5h12M350 221.5h11M369 221.5h17M399 221.5h11M420 221.5h1M476 221.5h8M0 222.5h5M34 222.5h17M295 222.5h11M350 222.5h10M370 222.5h15M400 222.5h9M475 222.5h10M0 223.5h6M33 223.5h18M297 223.5h10M350 223.5h10M370 223.5h14M400 223.5h7M474 223.5h13M0 224.5h7M31 224.5h21M299 224.5h10M350 224.5h10M370 224.5h13M400 224.5h6M410 224.5h3M473 224.5h16M0 225.5h8M29 225.5h24M301 225.5h10M350 225.5h10M370 225.5h12M400 225.5h5M410 225.5h4M472 225.5h19M0 226.5h8M26 226.5h27M303 226.5h11M350 226.5h11M369 226.5h12M401 226.5h3M410 226.5h5M471 226.5h23M0 227.5h9M25 227.5h29M304 227.5h11M350 227.5h11M369 227.5h12M401 227.5h2M410 227.5h6M419 227.5h1M471 227.5h24M0 228.5h10M23 228.5h31M304 228.5h13M350 228.5h12M368 228.5h13M410 228.5h7M418 228.5h2M471 228.5h26M0 229.5h11M21 229.5h34M305 229.5h14M350 229.5h30M410 229.5h10M470 229.5h29M19 230.5h36M305 230.5h16M350 230.5h30M404 230.5h6M416 230.5h4M470 230.5h30M20 231.5h36M306 231.5h18M349 231.5h31M404 231.5h6M416 231.5h4M470 231.5h30M21 232.5h35M306 232.5h19M349 232.5h31M404 232.5h6M416 232.5h4M469 232.5h31M21 233.5h35M306 233.5h20M348 233.5h32M405 233.5h5M415 233.5h5M467 233.5h33M22 234.5h35M307 234.5h20M347 234.5h33M406 234.5h4M414 234.5h6M466 234.5h4M473 234.5h27M23 235.5h35M308 235.5h20M347 235.5h33M407 235.5h3M413 235.5h7M466 235.5h4M474 235.5h26M24 236.5h34M308 236.5h20M346 236.5h34M408 236.5h12M465 236.5h5M475 236.5h25M25 237.5h34M309 237.5h20M344 237.5h36M410 237.5h10M464 237.5h6M476 237.5h24M27 238.5h32M310 238.5h20M343 238.5h37M410 238.5h10M463 238.5h7M476 238.5h24M29 239.5h30M311 239.5h20M341 239.5h39M410 239.5h10M463 239.5h7M477 239.5h23M31 240.5h28M338 240.5h42M410 240.5h10M462 240.5h8M478 240.5h21M34 241.5h25M339 241.5h17M364 241.5h16M411 241.5h9M436 241.5h8M461 241.5h9M478 241.5h18M35 242.5h24M340 242.5h15M365 242.5h15M411 242.5h9M435 242.5h10M461 242.5h9M479 242.5h16M36 243.5h22M340 243.5h14M367 243.5h13M411 243.5h9M434 243.5h12M461 243.5h9M479 243.5h15M37 244.5h20M340 244.5h13M369 244.5h11M412 244.5h8M433 244.5h14M460 244.5h10M480 244.5h13M38 245.5h19M340 245.5h12M371 245.5h9M413 245.5h7M432 245.5h16M460 245.5h10M480 245.5h12M38 246.5h18M340 246.5h11M374 246.5h6M414 246.5h6M431 246.5h18M459 246.5h11M480 246.5h11M39 247.5h15M340 247.5h11M375 247.5h5M415 247.5h5M431 247.5h19M459 247.5h11M480 247.5h11M40 248.5h13M341 248.5h9M377 248.5h3M417 248.5h4M430 248.5h22M458 248.5h12M480 248.5h11M41 249.5h10M342 249.5h7M378 249.5h2M419 249.5h3M429 249.5h41M480 249.5h11M441 250.5h29M480 250.5h11M380 251.5h1M444 251.5h26M480 251.5h11M445 252.5h25M480 252.5h11M447 253.5h23M480 253.5h11M449 254.5h21M480 254.5h12M451 255.5h19M480 255.5h13M454 256.5h17M479 256.5h15M455 257.5h16M479 257.5h16M457 258.5h15M478 258.5h19M388 259.5h1M459 259.5h40M390 260.5h1M461 260.5h39M72 261.5h6M390 261.5h4M464 261.5h36M71 262.5h8M391 262.5h4M465 262.5h35M71 263.5h8M391 263.5h6M466 263.5h34M70 264.5h10M392 264.5h7M467 264.5h33M70 265.5h10M393 265.5h8M468 265.5h32M70 266.5h10M393 266.5h10M468 266.5h32M70 267.5h10M394 267.5h10M469 267.5h31M70 268.5h11M394 268.5h10M469 268.5h31M70 269.5h12M395 269.5h10M470 269.5h30M70 270.5h2M89 270.5h2M395 270.5h10M470 270.5h14M70 271.5h1M90 271.5h4M396 271.5h10M471 271.5h11M91 272.5h4M396 272.5h10M471 272.5h10M91 273.5h5M396 273.5h10M471 273.5h10M92 274.5h5M397 274.5h10M472 274.5h9M93 275.5h5M398 275.5h10M473 275.5h8M94 276.5h4M398 276.5h10M473 276.5h8M95 277.5h4M399 277.5h10M474 277.5h7M97 278.5h2M399 278.5h10M474 278.5h7M98 279.5h2M400 279.5h10M475 279.5h7M99 280.5h1M400 280.5h10M475 280.5h8M401 281.5h10M476 281.5h8M401 282.5h10M476 282.5h9M401 283.5h10M476 283.5h10M402 284.5h10M477 284.5h10M403 285.5h10M478 285.5h10M403 286.5h11M478 286.5h10M404 287.5h11M479 287.5h10M404 288.5h13M479 288.5h10M100 289.5h1M405 289.5h14M480 289.5h10M100 290.5h2M405 290.5h33M480 290.5h10M100 291.5h4M406 291.5h33M460 291.5h3M480 291.5h11M100 292.5h5M406 292.5h34M459 292.5h6M480 292.5h11M100 293.5h7M407 293.5h33M458 293.5h8M480 293.5h11M100 294.5h9M409 294.5h31M457 294.5h10M480 294.5h12M100 295.5h11M411 295.5h29M457 295.5h11M480 295.5h13M100 296.5h13M413 296.5h27M456 296.5h12M480 296.5h14M100 297.5h14M414 297.5h26M454 297.5h15M480 297.5h15M100 298.5h14M414 298.5h27M453 298.5h16M480 298.5h17M101 299.5h14M415 299.5h27M451 299.5h19M480 299.5h19M102 300.5h13M415 300.5h26M449 300.5h21M480 300.5h20M104 301.5h12M416 301.5h24M450 301.5h20M480 301.5h20M105 302.5h11M416 302.5h23M451 302.5h19M480 302.5h20M106 303.5h11M416 303.5h22M451 303.5h19M480 303.5h20M107 304.5h12M417 304.5h20M452 304.5h18M480 304.5h20M108 305.5h13M418 305.5h19M453 305.5h17M480 305.5h20M108 306.5h15M418 306.5h18M453 306.5h17M480 306.5h20M109 307.5h15M419 307.5h15M454 307.5h16M480 307.5h20M110 308.5h14M420 308.5h13M454 308.5h16M481 308.5h19M70 309.5h1M110 309.5h15M421 309.5h10M455 309.5h15M482 309.5h18M70 310.5h2M112 310.5h13M455 310.5h15M71 311.5h3M92 311.5h7M114 311.5h12M456 311.5h15M71 312.5h4M91 312.5h9M115 312.5h11M456 312.5h15M71 313.5h5M91 313.5h10M116 313.5h11M456 313.5h15M72 314.5h5M90 314.5h12M117 314.5h12M457 314.5h15M73 315.5h5M90 315.5h13M118 315.5h13M458 315.5h15M73 316.5h6M89 316.5h15M118 316.5h15M458 316.5h16M74 317.5h6M89 317.5h16M119 317.5h15M459 317.5h16M74 318.5h8M88 318.5h18M119 318.5h15M460 318.5h17M75 319.5h32M120 319.5h15M460 319.5h18M75 320.5h33M120 320.5h15M462 320.5h18M76 321.5h32M120 321.5h16M464 321.5h16M76 322.5h33M120 322.5h16M465 322.5h16M76 323.5h33M120 323.5h17M467 323.5h14M77 324.5h33M120 324.5h19M469 324.5h13M78 325.5h32M120 325.5h21M471 325.5h12M78 326.5h32M119 326.5h24M473 326.5h11M79 327.5h31M119 327.5h25M474 327.5h11M79 328.5h31M118 328.5h26M474 328.5h13M80 329.5h30M118 329.5h27M475 329.5h14M80 330.5h2M101 330.5h9M117 330.5h28M475 330.5h17M80 331.5h1M103 331.5h7M116 331.5h30M476 331.5h15M104 332.5h6M116 332.5h30M476 332.5h14M105 333.5h5M115 333.5h31M477 333.5h13M106 334.5h4M114 334.5h33M479 334.5h11M107 335.5h3M113 335.5h35M481 335.5h9M108 336.5h40M484 336.5h6M109 337.5h40M485 337.5h4M109 338.5h40M80 339.5h1M109 339.5h41M80 340.5h2M108 340.5h1M121 340.5h23M148 340.5h2M81 341.5h3M124 341.5h17M149 341.5h1M81 342.5h4M125 342.5h15M81 343.5h5M126 343.5h12M82 344.5h5M127 344.5h10M83 345.5h5M128 345.5h7M84 346.5h4M128 346.5h6M85 347.5h4M129 347.5h4M87 348.5h3M129 348.5h4M150 348.5h1M128 349.5h4M149 349.5h3M128 350.5h1M134 350.5h4M148 350.5h18M134 351.5h5M147 351.5h21M134 352.5h6M146 352.5h23M135 353.5h5M145 353.5h24M136 354.5h4M144 354.5h25M137 355.5h3M143 355.5h26M138 356.5h31M140 357.5h29M120 358.5h1M140 358.5h28M140 359.5h27M118 360.5h2M140 360.5h27M116 361.5h4M140 361.5h26M115 362.5h5M140 362.5h24M114 363.5h6M140 363.5h23M113 364.5h7M140 364.5h21M112 365.5h8M140 365.5h19M112 366.5h8M140 366.5h16M111 367.5h9M140 367.5h15M112 368.5h9M139 368.5h14M113 369.5h9M138 369.5h13M242 451.5h1M241 452.5h4M240 453.5h6M240 454.5h7M240 455.5h8M240 456.5h8M240 457.5h9M240 458.5h9M240 459.5h10M240 460.5h10M241 461.5h9M241 462.5h9M241 463.5h9M242 464.5h8M243 465.5h7M244 466.5h6M246 467.5h3"/>
<path stroke="#FF5500" d="M300 0.5h30M300 1.5h30M300 2.5h30M300 3.5h30M300 4.5h30M300 5.5h30M300 6.5h30M300 7.5h30M300 8.5h30M300 9.5h30M300 10.5h30M299 11.5h31M299 12.5h31M298 13.5h32M298 14.5h32M297 15.5h33M296 16.5h34M296 17.5h34M296 18.5h34M295 19.5h35M295 20.5h35M294 21.5h37M294 22.5h37M293 23.5h38M293 24.5h39M292 25.5h41M291 26.5h42M291 27.5h43M291 28.5h43M290 29.5h45M290 30.5h45M290 31.5h46M290 32.5h46M290 33.5h46M290 34.5h47M290 35.5h48M290 36.5h48M290 37.5h49M290 38.5h49M290 39.5h50M290 40.5h50M290 41.5h50M372 41.5h6M79 42.5h2M290 42.5h50M371 42.5h8M61 43.5h20M290 43.5h50M371 43.5h8M57 44.5h24M290 44.5h50M371 44.5h8M56 45.5h25M290 45.5h50M371 45.5h8M54 46.5h27M290 46.5h50M371 46.5h8M53 47.5h28M290 47.5h50M371 47.5h8M52 48.5h29M290 48.5h50M372 48.5h6M22 49.5h2M50 49.5h31M290 49.5h50M19 50.5h7M48 50.5h33M290 50.5h50M18 51.5h9M46 51.5h35M291 51.5h49M17 52.5h11M44 52.5h37M291 52.5h49M17 53.5h11M42 53.5h39M291 53.5h49M16 54.5h13M41 54.5h40M292 54.5h48M16 55.5h13M40 55.5h41M293 55.5h47M16 56.5h14M38 56.5h43M293 56.5h47M15 57.5h17M35 57.5h46M294 57.5h46M15 58.5h66M294 58.5h46M15 59.5h66M295 59.5h45M15 60.5h66M295 60.5h45M0 61.5h74M296 61.5h45M0 62.5h74M296 62.5h45M0 63.5h73M297 63.5h44M0 64.5h71M299 64.5h43M0 65.5h69M301 65.5h42M0 66.5h67M303 66.5h41M0 67.5h66M304 67.5h41M0 68.5h66M304 68.5h43M0 69.5h65M305 69.5h44M11 70.5h54M305 70.5h46M14 71.5h50M86 71.5h8M306 71.5h48M15 72.5h49M85 72.5h10M306 72.5h49M17 73.5h46M83 73.5h14M307 73.5h50M19 74.5h44M81 74.5h18M309 74.5h50M21 75.5h41M79 75.5h22M311 75.5h50M23 76.5h38M77 76.5h27M313 76.5h51M24 77.5h37M76 77.5h29M314 77.5h51M24 78.5h37M76 78.5h31M314 78.5h53M25 79.5h35M75 79.5h34M315 79.5h54M25 80.5h35M75 80.5h43M315 80.5h56M26 81.5h34M74 81.5h45M316 81.5h30M354 81.5h20M26 82.5h34M74 82.5h46M316 82.5h29M355 82.5h20M26 83.5h34M73 83.5h47M316 83.5h27M356 83.5h21M27 84.5h33M72 84.5h48M317 84.5h24M357 84.5h22M28 85.5h32M72 85.5h48M318 85.5h21M358 85.5h23M28 86.5h33M71 86.5h49M318 86.5h18M358 86.5h25M29 87.5h32M69 87.5h51M319 87.5h16M359 87.5h25M29 88.5h33M68 88.5h52M319 88.5h15M359 88.5h25M30 89.5h89M319 89.5h14M359 89.5h26M30 90.5h88M319 90.5h13M359 90.5h26M30 91.5h86M319 91.5h12M359 91.5h27M30 92.5h85M319 92.5h12M359 92.5h27M30 93.5h84M318 93.5h13M358 93.5h28M30 94.5h83M318 94.5h13M357 94.5h30M30 95.5h82M317 95.5h14M357 95.5h31M30 96.5h81M316 96.5h15M356 96.5h32M30 97.5h81M316 97.5h15M354 97.5h35M30 98.5h81M316 98.5h16M353 98.5h36M30 99.5h80M315 99.5h19M351 99.5h38M30 100.5h80M315 100.5h74M30 101.5h80M314 101.5h75M30 102.5h80M314 102.5h75M30 103.5h80M313 103.5h75M30 104.5h80M313 104.5h74M30 105.5h80M312 105.5h75M30 106.5h80M311 106.5h75M30 107.5h80M311 107.5h73M30 108.5h80M311 108.5h72M30 109.5h80M311 109.5h70M30 110.5h80M159 110.5h9M311 110.5h58M30 111.5h80M156 111.5h13M311 111.5h55M30 112.5h80M155 112.5h15M311 112.5h54M30 113.5h80M154 113.5h16M311 113.5h53M30 114.5h80M153 114.5h17M312 114.5h51M30 115.5h80M152 115.5h18M313 115.5h49M30 116.5h80M151 116.5h19M313 116.5h48M30 117.5h80M151 117.5h19M314 117.5h47M30 118.5h80M151 118.5h19M314 118.5h47M30 119.5h80M150 119.5h20M315 119.5h45M30 120.5h80M150 120.5h20M182 120.5h6M315 120.5h45M30 121.5h12M49 121.5h62M149 121.5h21M181 121.5h8M316 121.5h44M30 122.5h11M50 122.5h61M149 122.5h21M180 122.5h10M316 122.5h44M30 123.5h11M51 123.5h60M148 123.5h22M180 123.5h10M317 123.5h43M30 124.5h10M52 124.5h60M148 124.5h22M180 124.5h10M319 124.5h41M30 125.5h10M53 125.5h60M147 125.5h23M180 125.5h10M321 125.5h39M30 126.5h10M53 126.5h60M146 126.5h25M179 126.5h11M323 126.5h37M30 127.5h10M54 127.5h60M146 127.5h25M179 127.5h11M324 127.5h36M30 128.5h10M54 128.5h60M146 128.5h26M178 128.5h12M324 128.5h36M30 129.5h10M55 129.5h60M145 129.5h45M325 129.5h35M30 130.5h10M55 130.5h60M145 130.5h45M325 130.5h35M30 131.5h10M56 131.5h60M144 131.5h46M326 131.5h35M30 132.5h10M56 132.5h60M144 132.5h46M326 132.5h35M30 133.5h10M56 133.5h61M143 133.5h47M327 133.5h34M30 134.5h10M57 134.5h62M141 134.5h49M329 134.5h33M30 135.5h10M58 135.5h63M139 135.5h51M331 135.5h32M31 136.5h8M58 136.5h66M136 136.5h54M306 136.5h9M333 136.5h31M31 137.5h8M59 137.5h66M135 137.5h55M305 137.5h12M334 137.5h31M32 138.5h6M59 138.5h68M133 138.5h57M305 138.5h12M334 138.5h33M60 139.5h130M305 139.5h12M335 139.5h34M60 140.5h89M189 140.5h1M306 140.5h10M335 140.5h36M60 141.5h86M190 141.5h1M309 141.5h3M336 141.5h38M392 141.5h6M60 142.5h85M336 142.5h39M391 142.5h8M60 143.5h83M337 143.5h39M391 143.5h8M60 144.5h81M339 144.5h38M390 144.5h10M60 145.5h79M341 145.5h37M390 145.5h10M60 146.5h77M344 146.5h35M389 146.5h11M60 147.5h76M345 147.5h35M389 147.5h11M60 148.5h76M347 148.5h35M388 148.5h12M60 149.5h75M349 149.5h51M60 150.5h75M351 150.5h49M412 150.5h6M60 151.5h74M354 151.5h46M411 151.5h8M60 152.5h74M355 152.5h45M410 152.5h10M60 153.5h73M357 153.5h43M410 153.5h10M60 154.5h73M359 154.5h41M410 154.5h10M60 155.5h72M361 155.5h39M410 155.5h10M60 156.5h71M364 156.5h36M411 156.5h8M60 157.5h71M365 157.5h35M411 157.5h8M60 158.5h71M367 158.5h33M412 158.5h6M60 159.5h70M369 159.5h31M60 160.5h70M371 160.5h29M61 161.5h69M374 161.5h27M61 162.5h69M375 162.5h26M61 163.5h69M377 163.5h24M62 164.5h68M379 164.5h23M63 165.5h67M381 165.5h22M63 166.5h67M384 166.5h19M64 167.5h66M385 167.5h19M64 168.5h66M200 168.5h1M387 168.5h17M65 169.5h65M200 169.5h2M389 169.5h16M65 170.5h65M200 170.5h8M391 170.5h14M66 171.5h64M201 171.5h8M394 171.5h12M66 172.5h64M201 172.5h9M395 172.5h11M67 173.5h63M201 173.5h9M397 173.5h9M69 174.5h61M202 174.5h8M399 174.5h8M71 175.5h59M203 175.5h7M401 175.5h7M73 176.5h57M204 176.5h6M404 176.5h4M74 177.5h56M205 177.5h5M405 177.5h4M74 178.5h56M207 178.5h4M407 178.5h3M75 179.5h55M209 179.5h3M409 179.5h2M0 180.5h1M75 180.5h55M218 180.5h3M418 180.5h13M0 181.5h4M76 181.5h55M219 181.5h5M419 181.5h15M0 182.5h5M76 182.5h55M220 182.5h5M420 182.5h15M0 183.5h7M76 183.5h55M220 183.5h7M420 183.5h17M0 184.5h9M77 184.5h55M220 184.5h9M420 184.5h19M0 185.5h11M78 185.5h55M220 185.5h11M420 185.5h21M0 186.5h13M78 186.5h55M220 186.5h13M420 186.5h24M0 187.5h14M79 187.5h55M220 187.5h14M420 187.5h25M0 188.5h14M79 188.5h55M220 188.5h14M421 188.5h26M0 189.5h15M80 189.5h55M220 189.5h15M422 189.5h27M0 190.5h15M80 190.5h55M220 190.5h15M431 190.5h41M478 190.5h3M0 191.5h16M81 191.5h55M221 191.5h15M434 191.5h37M479 191.5h5M0 192.5h16M81 192.5h55M221 192.5h15M435 192.5h35M480 192.5h5M0 193.5h16M81 193.5h55M221 193.5h15M437 193.5h33M480 193.5h7M0 194.5h17M82 194.5h55M222 194.5h15M439 194.5h31M480 194.5h9M0 195.5h18M83 195.5h55M223 195.5h15M441 195.5h29M480 195.5h11M0 196.5h18M84 196.5h54M223 196.5h15M444 196.5h27M479 196.5h15M0 197.5h19M85 197.5h54M224 197.5h15M445 197.5h26M479 197.5h16M0 198.5h20M87 198.5h52M224 198.5h15M447 198.5h25M478 198.5h19M0 199.5h21M89 199.5h50M225 199.5h15M449 199.5h50M39 200.5h12M91 200.5h48M225 200.5h15M259 200.5h9M456 200.5h44M40 201.5h14M94 201.5h45M226 201.5h14M256 201.5h13M392 201.5h6M458 201.5h42M41 202.5h14M95 202.5h44M226 202.5h14M255 202.5h15M391 202.5h8M459 202.5h41M41 203.5h16M97 203.5h41M227 203.5h13M254 203.5h16M391 203.5h8M459 203.5h41M42 204.5h17M99 204.5h38M229 204.5h11M253 204.5h17M390 204.5h10M459 204.5h41M43 205.5h18M101 205.5h36M231 205.5h9M252 205.5h18M390 205.5h10M459 205.5h41M43 206.5h20M104 206.5h32M233 206.5h8M251 206.5h19M390 206.5h10M459 206.5h41M44 207.5h20M105 207.5h29M234 207.5h7M249 207.5h21M390 207.5h10M459 207.5h41M44 208.5h20M107 208.5h26M234 208.5h8M248 208.5h22M390 208.5h10M458 208.5h42M45 209.5h20M109 209.5h22M235 209.5h35M390 209.5h10M457 209.5h43M45 210.5h20M235 210.5h35M390 210.5h10M457 210.5h43M46 211.5h20M236 211.5h35M390 211.5h10M456 211.5h44M46 212.5h20M236 212.5h35M390 212.5h10M454 212.5h46M46 213.5h21M237 213.5h34M390 213.5h10M453 213.5h47M47 214.5h22M239 214.5h33M390 214.5h10M451 214.5h49M48 215.5h23M241 215.5h32M390 215.5h10M449 215.5h51M48 216.5h25M243 216.5h31M390 216.5h10M446 216.5h54M49 217.5h25M244 217.5h31M390 217.5h10M445 217.5h55M49 218.5h25M244 218.5h33M391 218.5h8M443 218.5h57M50 219.5h25M245 219.5h34M392 219.5h6M441 219.5h59M50 220.5h25M245 220.5h46M362 220.5h6M422 220.5h78M51 221.5h25M246 221.5h48M361 221.5h8M421 221.5h55M484 221.5h16M51 222.5h25M246 222.5h49M360 222.5h10M420 222.5h55M485 222.5h15M51 223.5h25M247 223.5h50M360 223.5h10M420 223.5h54M487 223.5h13M52 224.5h25M249 224.5h50M360 224.5h10M420 224.5h53M489 224.5h11M53 225.5h25M251 225.5h50M360 225.5h10M420 225.5h52M491 225.5h9M53 226.5h25M254 226.5h49M361 226.5h8M420 226.5h51M494 226.5h6M54 227.5h25M255 227.5h49M361 227.5h8M420 227.5h51M495 227.5h5M54 228.5h25M257 228.5h47M362 228.5h6M420 228.5h51M497 228.5h3M55 229.5h25M259 229.5h46M420 229.5h50M499 229.5h1M0 230.5h19M55 230.5h25M291 230.5h14M420 230.5h50M0 231.5h20M56 231.5h24M294 231.5h12M420 231.5h50M0 232.5h21M56 232.5h24M295 232.5h11M420 232.5h49M0 233.5h21M56 233.5h24M296 233.5h10M420 233.5h47M0 234.5h22M57 234.5h23M297 234.5h10M420 234.5h46M470 234.5h3M0 235.5h23M58 235.5h22M298 235.5h10M420 235.5h46M470 235.5h4M0 236.5h24M58 236.5h22M298 236.5h10M420 236.5h45M470 236.5h5M0 237.5h25M59 237.5h21M299 237.5h10M420 237.5h44M470 237.5h6M0 238.5h27M59 238.5h21M300 238.5h10M420 238.5h43M470 238.5h6M0 239.5h29M59 239.5h21M301 239.5h10M420 239.5h43M470 239.5h7M11 240.5h20M59 240.5h21M319 240.5h19M420 240.5h42M470 240.5h8M14 241.5h20M59 241.5h22M320 241.5h19M356 241.5h8M420 241.5h16M444 241.5h17M470 241.5h8M15 242.5h20M59 242.5h22M321 242.5h19M355 242.5h10M420 242.5h15M445 242.5h16M470 242.5h9M17 243.5h19M58 243.5h23M321 243.5h19M354 243.5h13M420 243.5h14M446 243.5h15M470 243.5h9M19 244.5h18M57 244.5h25M322 244.5h18M353 244.5h16M420 244.5h13M447 244.5h13M470 244.5h10M21 245.5h17M57 245.5h26M323 245.5h17M352 245.5h19M420 245.5h12M448 245.5h12M470 245.5h10M24 246.5h14M56 246.5h27M324 246.5h16M351 246.5h23M420 246.5h11M449 246.5h10M470 246.5h10M25 247.5h14M54 247.5h30M325 247.5h15M351 247.5h24M420 247.5h11M450 247.5h9M470 247.5h10M27 248.5h13M53 248.5h31M327 248.5h14M350 248.5h27M421 248.5h9M452 248.5h6M470 248.5h10M29 249.5h12M51 249.5h34M329 249.5h13M349 249.5h29M422 249.5h7M470 249.5h10M49 250.5h36M361 250.5h19M470 250.5h10M50 251.5h36M364 251.5h16M470 251.5h10M51 252.5h35M365 252.5h16M470 252.5h10M51 253.5h35M367 253.5h14M470 253.5h10M52 254.5h35M369 254.5h13M470 254.5h10M53 255.5h35M371 255.5h12M470 255.5h10M53 256.5h35M373 256.5h11M471 256.5h8M54 257.5h35M374 257.5h11M471 257.5h8M54 258.5h35M374 258.5h13M472 258.5h6M55 259.5h35M375 259.5h13M55 260.5h35M375 260.5h15M56 261.5h16M78 261.5h12M376 261.5h14M56 262.5h15M79 262.5h11M376 262.5h15M56 263.5h15M79 263.5h11M377 263.5h14M57 264.5h13M80 264.5h10M379 264.5h13M58 265.5h12M80 265.5h10M381 265.5h12M58 266.5h12M80 266.5h10M383 266.5h10M59 267.5h11M80 267.5h10M384 267.5h10M59 268.5h11M81 268.5h9M384 268.5h10M60 269.5h10M82 269.5h9M385 269.5h10M60 270.5h10M91 270.5h1M385 270.5h10M484 270.5h16M60 271.5h10M386 271.5h10M482 271.5h18M60 272.5h10M386 272.5h10M481 272.5h19M60 273.5h10M386 273.5h10M481 273.5h19M60 274.5h10M387 274.5h10M481 274.5h19M60 275.5h10M388 275.5h10M481 275.5h19M60 276.5h10M388 276.5h10M481 276.5h19M60 277.5h10M389 277.5h10M481 277.5h19M60 278.5h10M99 278.5h1M389 278.5h10M481 278.5h19M60 279.5h10M390 279.5h10M482 279.5h18M60 280.5h10M100 280.5h2M390 280.5h10M483 280.5h17M60 281.5h10M100 281.5h4M391 281.5h10M484 281.5h16M60 282.5h10M100 282.5h5M391 282.5h10M485 282.5h15M60 283.5h10M100 283.5h7M391 283.5h10M486 283.5h14M60 284.5h10M100 284.5h9M392 284.5h10M487 284.5h13M60 285.5h10M100 285.5h11M393 285.5h10M488 285.5h12M60 286.5h10M100 286.5h13M393 286.5h10M488 286.5h12M60 287.5h10M100 287.5h14M394 287.5h10M489 287.5h11M60 288.5h10M100 288.5h14M394 288.5h10M489 288.5h11M60 289.5h10M101 289.5h14M395 289.5h10M490 289.5h10M60 290.5h10M102 290.5h13M395 290.5h10M490 290.5h10M60 291.5h10M104 291.5h12M396 291.5h10M491 291.5h9M60 292.5h10M105 292.5h11M396 292.5h10M491 292.5h9M60 293.5h10M107 293.5h10M397 293.5h10M491 293.5h9M60 294.5h10M109 294.5h10M399 294.5h10M492 294.5h8M60 295.5h10M111 295.5h10M401 295.5h10M493 295.5h7M60 296.5h10M113 296.5h11M403 296.5h10M494 296.5h6M60 297.5h10M114 297.5h11M404 297.5h10M495 297.5h5M60 298.5h10M114 298.5h13M404 298.5h10M497 298.5h3M60 299.5h10M115 299.5h14M405 299.5h10M499 299.5h1M60 300.5h10M115 300.5h24M405 300.5h10M441 300.5h8M60 301.5h10M116 301.5h24M406 301.5h10M440 301.5h10M60 302.5h10M116 302.5h25M406 302.5h10M439 302.5h12M60 303.5h10M117 303.5h24M406 303.5h10M438 303.5h13M60 304.5h10M119 304.5h23M407 304.5h10M437 304.5h15M60 305.5h10M121 305.5h22M408 305.5h10M437 305.5h16M60 306.5h10M123 306.5h20M408 306.5h10M436 306.5h17M60 307.5h10M124 307.5h20M409 307.5h10M434 307.5h20M60 308.5h10M124 308.5h20M410 308.5h10M433 308.5h21M60 309.5h10M125 309.5h20M411 309.5h10M431 309.5h24M60 310.5h10M125 310.5h20M428 310.5h27M60 311.5h11M126 311.5h20M429 311.5h13M448 311.5h8M60 312.5h11M126 312.5h20M430 312.5h11M449 312.5h7M60 313.5h11M127 313.5h20M430 313.5h11M449 313.5h7M60 314.5h12M129 314.5h20M430 314.5h10M450 314.5h7M60 315.5h13M131 315.5h20M430 315.5h10M450 315.5h8M60 316.5h13M133 316.5h21M430 316.5h10M450 316.5h8M60 317.5h14M134 317.5h21M430 317.5h10M450 317.5h9M60 318.5h14M134 318.5h23M431 318.5h8M451 318.5h9M60 319.5h15M135 319.5h24M432 319.5h6M452 319.5h8M60 320.5h15M135 320.5h26M461 320.5h1M60 321.5h16M136 321.5h28M60 322.5h16M136 322.5h29M60 323.5h16M137 323.5h29M60 324.5h17M139 324.5h28M60 325.5h18M141 325.5h27M60 326.5h18M143 326.5h25M60 327.5h19M144 327.5h25M60 328.5h19M144 328.5h25M61 329.5h19M145 329.5h25M62 330.5h18M145 330.5h25M492 330.5h8M64 331.5h16M146 331.5h24M491 331.5h9M65 332.5h15M146 332.5h24M490 332.5h10M66 333.5h14M146 333.5h24M490 333.5h10M67 334.5h13M147 334.5h23M490 334.5h10M68 335.5h12M148 335.5h22M490 335.5h10M68 336.5h12M148 336.5h22M490 336.5h10M69 337.5h11M149 337.5h21M489 337.5h11M70 338.5h10M149 338.5h21M487 338.5h13M71 339.5h9M150 339.5h20M488 339.5h12M79 340.5h1M109 340.5h12M150 340.5h20M489 340.5h11M80 341.5h1M106 341.5h18M150 341.5h21M490 341.5h10M105 342.5h20M150 342.5h21M490 342.5h10M103 343.5h23M150 343.5h21M490 343.5h10M101 344.5h26M150 344.5h22M490 344.5h10M99 345.5h29M150 345.5h23M490 345.5h10M96 346.5h32M150 346.5h23M490 346.5h10M95 347.5h34M150 347.5h24M490 347.5h10M93 348.5h36M151 348.5h23M490 348.5h10M88 349.5h40M152 349.5h23M490 349.5h10M89 350.5h39M166 350.5h9M490 350.5h10M90 351.5h12M108 351.5h18M168 351.5h8M491 351.5h9M90 352.5h11M109 352.5h16M169 352.5h7M491 352.5h9M90 353.5h11M109 353.5h15M169 353.5h7M491 353.5h9M90 354.5h10M109 354.5h14M169 354.5h8M492 354.5h8M90 355.5h10M109 355.5h13M169 355.5h9M493 355.5h7M91 356.5h9M109 356.5h12M169 356.5h9M494 356.5h6M91 357.5h9M109 357.5h12M169 357.5h10M495 357.5h5M91 358.5h9M108 358.5h12M168 358.5h11M497 358.5h3M92 359.5h8M108 359.5h12M167 359.5h13M499 359.5h1M93 360.5h7M107 360.5h11M167 360.5h13M93 361.5h7M106 361.5h10M166 361.5h14M94 362.5h6M106 362.5h9M164 362.5h16M95 363.5h5M105 363.5h9M163 363.5h17M96 364.5h4M104 364.5h9M161 364.5h19M97 365.5h3M103 365.5h9M159 365.5h21M99 366.5h1M101 366.5h11M156 366.5h24M101 367.5h10M155 367.5h25M101 368.5h11M153 368.5h27M103 369.5h10M151 369.5h29M118 370.5h62M119 371.5h60M120 372.5h59M120 373.5h58M120 374.5h57M120 375.5h57M120 376.5h56M120 377.5h55M121 378.5h53M122 379.5h51M141 380.5h31M144 381.5h27M145 382.5h26M147 383.5h24M149 384.5h22M151 385.5h20M153 386.5h18M154 387.5h17M154 388.5h18M155 389.5h19M155 390.5h21M156 391.5h22M156 392.5h23M156 393.5h23M157 394.5h22M158 395.5h21M158 396.5h21M159 397.5h20M160 398.5h18M161 399.5h15M209 440.5h22M206 441.5h28M205 442.5h30M204 443.5h32M203 444.5h34M202 445.5h36M202 446.5h36M201 447.5h38M202 448.5h38M203 449.5h37M211 450.5h31M214 451.5h28M243 451.5h1M215 452.5h26M216 453.5h24M217 454.5h23M218 455.5h22M218 456.5h22M219 457.5h21M219 458.5h21M220 459.5h20M220 460.5h20M220 461.5h21M220 462.5h21M220 463.5h21M220 464.5h22M220 465.5h23M220 466.5h24M220 467.5h26M249 467.5h1M220 468.5h30M220 469.5h30M220 470.5h30M220 471.5h30M487 471.5h1M220 472.5h30M485 472.5h4M220 473.5h30M484 473.5h6M220 474.5h30M483 474.5h7M220 475.5h30M482 475.5h8M220 476.5h30M481 476.5h9M220 477.5h30M481 477.5h9M220 478.5h30M481 478.5h9M220 479.5h30M480 479.5h10"/>
<path stroke="#FF0000" d="M330 0.5h50M330 1.5h51M330 2.5h51M330 3.5h51M330 4.5h52M330 5.5h53M330 6.5h53M330 7.5h54M330 8.5h54M330 9.5h55M330 10.5h55M330 11.5h56M330 12.5h56M330 13.5h57M330 14.5h59M330 15.5h61M330 16.5h63M330 17.5h64M330 18.5h64M330 19.5h65M330 20.5h65M331 21.5h65M331 22.5h65M331 23.5h65M332 24.5h65M333 25.5h65M333 26.5h65M334 27.5h65M334 28.5h65M335 29.5h65M335 30.5h65M336 31.5h65M336 32.5h65M336 33.5h65M337 34.5h65M338 35.5h65M338 36.5h66M339 37.5h66M339 38.5h68M340 39.5h69M340 40.5h71M340 41.5h32M378 41.5h36M340 42.5h31M379 42.5h36M340 43.5h31M379 43.5h37M340 44.5h31M379 44.5h38M340 45.5h31M379 45.5h39M340 46.5h31M379 46.5h39M340 47.5h31M379 47.5h40M340 48.5h32M378 48.5h41M340 49.5h80M340 50.5h80M340 51.5h81M340 52.5h81M340 53.5h81M340 54.5h82M340 55.5h83M340 56.5h83M340 57.5h84M340 58.5h84M340 59.5h85M340 60.5h85M341 61.5h85M341 62.5h85M341 63.5h85M342 64.5h85M343 65.5h85M344 66.5h84M345 67.5h84M347 68.5h82M349 69.5h81M0 70.5h11M351 70.5h79M0 71.5h14M354 71.5h76M0 72.5h15M355 72.5h75M0 73.5h17M357 73.5h73M0 74.5h19M359 74.5h71M0 75.5h21M361 75.5h69M0 76.5h23M364 76.5h66M0 77.5h24M365 77.5h65M0 78.5h24M367 78.5h63M0 79.5h25M369 79.5h61M0 80.5h25M371 80.5h59M0 81.5h26M374 81.5h56M0 82.5h26M375 82.5h55M0 83.5h26M377 83.5h53M0 84.5h27M379 84.5h51M0 85.5h28M381 85.5h49M0 86.5h28M383 86.5h47M0 87.5h29M384 87.5h46M0 88.5h29M384 88.5h46M0 89.5h30M385 89.5h45M0 90.5h30M385 90.5h45M0 91.5h30M386 91.5h44M0 92.5h30M386 92.5h44M0 93.5h30M386 93.5h44M0 94.5h30M387 94.5h43M0 95.5h30M388 95.5h42M0 96.5h30M388 96.5h42M0 97.5h30M389 97.5h41M0 98.5h30M389 98.5h41M0 99.5h30M389 99.5h41M0 100.5h30M389 100.5h41M0 101.5h30M389 101.5h40M0 102.5h30M389 102.5h40M0 103.5h30M388 103.5h40M0 104.5h30M387 104.5h40M0 105.5h30M387 105.5h40M0 106.5h30M386 106.5h40M0 107.5h30M384 107.5h40M0 108.5h30M383 108.5h40M0 109.5h30M381 109.5h40M0 110.5h30M369 110.5h50M0 111.5h30M366 111.5h50M0 112.5h30M365 112.5h50M0 113.5h30M364 113.5h49M0 114.5h30M363 114.5h48M0 115.5h30M362 115.5h47M0 116.5h30M361 116.5h46M0 117.5h30M361 117.5h45M0 118.5h30M361 118.5h45M0 119.5h30M360 119.5h45M0 120.5h30M360 120.5h45M0 121.5h30M42 121.5h7M360 121.5h44M0 122.5h30M41 122.5h9M360 122.5h44M0 123.5h30M41 123.5h10M360 123.5h43M0 124.5h30M40 124.5h12M360 124.5h43M0 125.5h30M40 125.5h13M360 125.5h42M0 126.5h30M40 126.5h13M360 126.5h41M0 127.5h30M40 127.5h14M360 127.5h41M0 128.5h30M40 128.5h14M360 128.5h41M0 129.5h30M40 129.5h15M360 129.5h41M0 130.5h30M40 130.5h15M360 130.5h41M0 131.5h30M40 131.5h16M361 131.5h40M0 132.5h30M40 132.5h16M361 132.5h40M0 133.5h30M40 133.5h16M361 133.5h40M0 134.5h30M40 134.5h17M362 134.5h40M0 135.5h30M40 135.5h18M363 135.5h40M0 136.5h31M39 136.5h19M364 136.5h39M0 137.5h31M39 137.5h20M365 137.5h39M0 138.5h32M38 138.5h21M367 138.5h37M0 139.5h60M369 139.5h36M0 140.5h60M149 140.5h40M371 140.5h34M0 141.5h60M146 141.5h44M374 141.5h18M398 141.5h8M0 142.5h60M145 142.5h46M375 142.5h16M399 142.5h7M0 143.5h60M143 143.5h48M376 143.5h15M399 143.5h7M0 144.5h60M141 144.5h51M377 144.5h13M400 144.5h7M0 145.5h60M139 145.5h54M378 145.5h12M400 145.5h8M0 146.5h60M137 146.5h57M379 146.5h10M400 146.5h8M0 147.5h60M136 147.5h59M380 147.5h9M400 147.5h9M0 148.5h60M136 148.5h61M382 148.5h6M400 148.5h10M0 149.5h60M135 149.5h63M400 149.5h11M0 150.5h60M135 150.5h64M400 150.5h12M418 150.5h3M0 151.5h60M134 151.5h66M400 151.5h11M419 151.5h5M0 152.5h60M134 152.5h66M400 152.5h10M420 152.5h5M0 153.5h60M133 153.5h67M400 153.5h10M420 153.5h7M0 154.5h60M133 154.5h67M400 154.5h10M420 154.5h9M0 155.5h60M132 155.5h68M400 155.5h10M420 155.5h11M0 156.5h60M131 156.5h69M400 156.5h11M419 156.5h14M0 157.5h60M131 157.5h69M400 157.5h11M419 157.5h15M0 158.5h60M131 158.5h69M400 158.5h12M418 158.5h16M0 159.5h60M130 159.5h70M400 159.5h35M0 160.5h60M130 160.5h70M400 160.5h35M0 161.5h61M130 161.5h70M401 161.5h35M0 162.5h61M130 162.5h70M401 162.5h35M0 163.5h61M130 163.5h70M401 163.5h36M0 164.5h62M130 164.5h70M402 164.5h37M0 165.5h63M130 165.5h70M403 165.5h38M0 166.5h63M130 166.5h70M403 166.5h41M0 167.5h64M130 167.5h70M404 167.5h41M0 168.5h64M130 168.5h70M404 168.5h43M0 169.5h65M130 169.5h70M405 169.5h44M0 170.5h65M130 170.5h70M405 170.5h56M0 171.5h66M130 171.5h71M406 171.5h58M0 172.5h66M130 172.5h71M406 172.5h59M0 173.5h67M130 173.5h71M406 173.5h61M0 174.5h69M130 174.5h72M407 174.5h62M0 175.5h71M130 175.5h73M408 175.5h63M0 176.5h73M130 176.5h74M408 176.5h66M0 177.5h74M130 177.5h75M409 177.5h66M0 178.5h74M130 178.5h77M410 178.5h67M0 179.5h75M130 179.5h79M411 179.5h68M1 180.5h74M130 180.5h88M431 180.5h69M4 181.5h72M131 181.5h88M434 181.5h66M5 182.5h71M131 182.5h89M435 182.5h65M7 183.5h69M131 183.5h89M437 183.5h63M9 184.5h68M132 184.5h88M439 184.5h61M11 185.5h67M133 185.5h87M441 185.5h59M13 186.5h65M133 186.5h87M444 186.5h56M14 187.5h65M134 187.5h86M445 187.5h55M14 188.5h65M134 188.5h86M447 188.5h53M15 189.5h65M135 189.5h85M449 189.5h51M15 190.5h65M135 190.5h85M481 190.5h19M16 191.5h65M136 191.5h85M484 191.5h16M16 192.5h65M136 192.5h85M485 192.5h15M16 193.5h65M136 193.5h85M487 193.5h13M17 194.5h65M137 194.5h85M489 194.5h11M18 195.5h65M138 195.5h85M491 195.5h9M18 196.5h66M138 196.5h85M494 196.5h6M19 197.5h66M139 197.5h85M495 197.5h5M20 198.5h67M139 198.5h85M497 198.5h3M21 199.5h68M139 199.5h86M499 199.5h1M51 200.5h40M139 200.5h86M54 201.5h40M139 201.5h87M55 202.5h40M139 202.5h87M57 203.5h40M138 203.5h89M59 204.5h40M137 204.5h92M61 205.5h40M137 205.5h94M63 206.5h41M136 206.5h97M64 207.5h41M134 207.5h100M64 208.5h43M133 208.5h101M65 209.5h44M131 209.5h104M65 210.5h170M66 211.5h140M214 211.5h22M66 212.5h139M215 212.5h21M67 213.5h136M217 213.5h20M69 214.5h132M219 214.5h20M71 215.5h128M221 215.5h20M73 216.5h124M224 216.5h19M74 217.5h122M225 217.5h19M74 218.5h122M227 218.5h17M75 219.5h120M229 219.5h16M75 220.5h120M231 220.5h14M76 221.5h118M234 221.5h12M76 222.5h118M235 222.5h11M76 223.5h117M236 223.5h11M77 224.5h116M237 224.5h12M78 225.5h114M238 225.5h13M78 226.5h113M238 226.5h16M79 227.5h112M239 227.5h16M79 228.5h112M239 228.5h18M80 229.5h110M240 229.5h19M80 230.5h110M240 230.5h51M80 231.5h110M240 231.5h50M293 231.5h1M80 232.5h110M240 232.5h49M80 233.5h110M240 233.5h48M80 234.5h110M240 234.5h47M80 235.5h110M240 235.5h47M80 236.5h110M240 236.5h46M80 237.5h110M240 237.5h44M80 238.5h110M240 238.5h43M299 238.5h1M80 239.5h110M240 239.5h41M300 239.5h1M0 240.5h11M80 240.5h110M240 240.5h19M300 240.5h19M0 241.5h14M81 241.5h108M240 241.5h16M301 241.5h19M0 242.5h15M81 242.5h108M240 242.5h15M301 242.5h20M0 243.5h17M81 243.5h107M240 243.5h14M301 243.5h20M0 244.5h19M82 244.5h106M240 244.5h13M302 244.5h20M0 245.5h21M83 245.5h104M240 245.5h12M303 245.5h20M0 246.5h24M83 246.5h103M241 246.5h10M304 246.5h20M0 247.5h25M84 247.5h102M241 247.5h8M305 247.5h20M0 248.5h27M84 248.5h102M242 248.5h6M307 248.5h20M0 249.5h29M85 249.5h100M309 249.5h20M1 250.5h48M85 250.5h100M311 250.5h50M4 251.5h46M86 251.5h40M134 251.5h50M314 251.5h50M5 252.5h46M86 252.5h39M135 252.5h49M315 252.5h50M7 253.5h44M86 253.5h37M137 253.5h46M317 253.5h50M9 254.5h43M87 254.5h34M139 254.5h42M319 254.5h50M11 255.5h42M88 255.5h31M141 255.5h38M321 255.5h50M13 256.5h40M88 256.5h28M144 256.5h32M324 256.5h49M14 257.5h40M89 257.5h26M145 257.5h30M325 257.5h49M14 258.5h40M89 258.5h25M147 258.5h26M327 258.5h47M15 259.5h40M90 259.5h23M149 259.5h22M329 259.5h46M15 260.5h40M90 260.5h22M361 260.5h14M16 261.5h25M49 261.5h7M90 261.5h21M364 261.5h12M16 262.5h24M50 262.5h6M90 262.5h21M365 262.5h11M17 263.5h22M51 263.5h5M90 263.5h21M367 263.5h10M19 264.5h19M52 264.5h5M90 264.5h21M369 264.5h10M21 265.5h16M53 265.5h5M90 265.5h21M371 265.5h10M24 266.5h12M54 266.5h4M90 266.5h21M373 266.5h10M25 267.5h9M55 267.5h4M90 267.5h21M374 267.5h10M27 268.5h6M57 268.5h2M90 268.5h21M374 268.5h10M58 269.5h2M91 269.5h21M375 269.5h10M59 270.5h1M92 270.5h21M375 270.5h10M94 271.5h20M212 271.5h6M232 271.5h6M376 271.5h10M95 272.5h20M211 272.5h8M231 272.5h8M376 272.5h10M96 273.5h21M211 273.5h8M231 273.5h8M376 273.5h10M97 274.5h22M210 274.5h10M230 274.5h9M377 274.5h10M98 275.5h23M210 275.5h10M230 275.5h9M378 275.5h10M98 276.5h25M210 276.5h11M229 276.5h10M378 276.5h10M99 277.5h25M210 277.5h11M229 277.5h10M379 277.5h10M100 278.5h24M210 278.5h12M228 278.5h10M379 278.5h10M59 279.5h1M100 279.5h25M210 279.5h27M380 279.5h10M58 280.5h2M102 280.5h23M210 280.5h27M380 280.5h10M26 281.5h8M56 281.5h4M104 281.5h22M211 281.5h25M381 281.5h10M25 282.5h10M55 282.5h5M105 282.5h21M211 282.5h24M381 282.5h10M24 283.5h12M54 283.5h6M107 283.5h20M211 283.5h23M381 283.5h10M23 284.5h14M53 284.5h7M109 284.5h20M212 284.5h21M382 284.5h10M22 285.5h16M52 285.5h8M111 285.5h20M213 285.5h19M383 285.5h10M21 286.5h18M51 286.5h9M113 286.5h20M214 286.5h17M383 286.5h10M21 287.5h19M49 287.5h11M114 287.5h20M215 287.5h14M384 287.5h10M21 288.5h21M48 288.5h12M114 288.5h20M217 288.5h11M384 288.5h10M21 289.5h39M115 289.5h20M219 289.5h7M385 289.5h10M21 290.5h39M115 290.5h20M385 290.5h10M21 291.5h39M116 291.5h20M386 291.5h10M21 292.5h39M116 292.5h20M386 292.5h10M21 293.5h39M117 293.5h19M386 293.5h11M22 294.5h38M119 294.5h18M387 294.5h12M23 295.5h37M121 295.5h17M388 295.5h13M24 296.5h36M124 296.5h14M388 296.5h15M25 297.5h35M125 297.5h14M389 297.5h15M27 298.5h33M127 298.5h12M390 298.5h14M29 299.5h31M129 299.5h11M390 299.5h15M36 300.5h24M139 300.5h1M392 300.5h13M38 301.5h22M140 301.5h1M394 301.5h12M39 302.5h21M395 302.5h11M39 303.5h21M396 303.5h10M39 304.5h21M397 304.5h10M39 305.5h21M398 305.5h10M39 306.5h21M398 306.5h10M39 307.5h21M399 307.5h10M38 308.5h22M400 308.5h10M36 309.5h24M401 309.5h10M29 310.5h31M418 310.5h10M26 311.5h34M419 311.5h10M442 311.5h6M25 312.5h35M420 312.5h10M441 312.5h8M24 313.5h36M420 313.5h10M441 313.5h8M23 314.5h37M420 314.5h10M440 314.5h10M22 315.5h38M420 315.5h10M440 315.5h10M21 316.5h39M420 316.5h10M440 316.5h10M21 317.5h39M420 317.5h10M440 317.5h10M21 318.5h39M421 318.5h10M439 318.5h12M20 319.5h40M422 319.5h10M438 319.5h14M20 320.5h40M459 320.5h2M20 321.5h40M460 321.5h4M20 322.5h40M461 322.5h4M20 323.5h40M461 323.5h6M20 324.5h40M462 324.5h7M20 325.5h40M463 325.5h8M20 326.5h40M463 326.5h10M20 327.5h40M464 327.5h10M21 328.5h39M464 328.5h10M22 329.5h39M465 329.5h10M61 330.5h1M465 330.5h10M466 331.5h10M466 332.5h10M467 333.5h10M469 334.5h10M471 335.5h10M473 336.5h11M474 337.5h11M69 338.5h1M474 338.5h13M70 339.5h1M170 339.5h1M475 339.5h13M70 340.5h9M170 340.5h2M475 340.5h14M71 341.5h9M171 341.5h3M476 341.5h14M71 342.5h10M171 342.5h4M476 342.5h14M71 343.5h10M171 343.5h6M476 343.5h14M72 344.5h10M172 344.5h7M477 344.5h13M73 345.5h10M173 345.5h8M478 345.5h12M73 346.5h11M173 346.5h10M478 346.5h12M74 347.5h11M174 347.5h10M479 347.5h11M74 348.5h13M174 348.5h10M479 348.5h11M75 349.5h13M175 349.5h10M480 349.5h10M75 350.5h14M175 350.5h10M480 350.5h10M76 351.5h14M102 351.5h6M176 351.5h10M481 351.5h10M76 352.5h14M101 352.5h8M176 352.5h10M481 352.5h10M77 353.5h13M101 353.5h8M176 353.5h10M481 353.5h10M79 354.5h11M100 354.5h9M177 354.5h10M482 354.5h10M81 355.5h9M100 355.5h9M178 355.5h10M483 355.5h10M83 356.5h8M100 356.5h9M178 356.5h10M483 356.5h11M84 357.5h7M100 357.5h9M179 357.5h10M484 357.5h11M84 358.5h7M100 358.5h8M179 358.5h10M484 358.5h13M85 359.5h7M100 359.5h8M180 359.5h10M485 359.5h14M85 360.5h8M100 360.5h7M180 360.5h10M485 360.5h15M86 361.5h7M100 361.5h6M180 361.5h11M486 361.5h14M86 362.5h8M100 362.5h6M180 362.5h11M486 362.5h14M86 363.5h9M100 363.5h5M180 363.5h11M486 363.5h14M87 364.5h9M100 364.5h4M180 364.5h12M487 364.5h13M88 365.5h9M100 365.5h3M180 365.5h13M488 365.5h12M88 366.5h11M100 366.5h1M180 366.5h13M488 366.5h12M89 367.5h12M180 367.5h14M489 367.5h11M90 368.5h11M180 368.5h14M489 368.5h11M91 369.5h12M180 369.5h15M490 369.5h10M108 370.5h10M180 370.5h15M490 370.5h10M109 371.5h10M179 371.5h17M490 371.5h10M110 372.5h10M179 372.5h17M490 372.5h10M110 373.5h10M178 373.5h18M490 373.5h10M110 374.5h10M177 374.5h20M490 374.5h10M110 375.5h10M177 375.5h21M490 375.5h10M110 376.5h10M176 376.5h22M490 376.5h10M110 377.5h10M175 377.5h24M490 377.5h10M111 378.5h10M174 378.5h25M490 378.5h10M112 379.5h10M173 379.5h27M490 379.5h10M139 380.5h2M172 380.5h28M490 380.5h10M140 381.5h4M171 381.5h30M490 381.5h10M141 382.5h4M171 382.5h30M490 382.5h10M141 383.5h6M171 383.5h30M490 383.5h10M142 384.5h7M171 384.5h31M490 384.5h10M143 385.5h8M171 385.5h32M490 385.5h10M143 386.5h10M171 386.5h33M490 386.5h10M144 387.5h10M171 387.5h34M490 387.5h10M144 388.5h10M172 388.5h35M490 388.5h10M145 389.5h10M174 389.5h34M490 389.5h10M145 390.5h10M176 390.5h33M490 390.5h10M146 391.5h10M178 391.5h32M490 391.5h10M146 392.5h10M179 392.5h31M490 392.5h10M147 393.5h9M179 393.5h31M490 393.5h10M149 394.5h8M179 394.5h31M490 394.5h10M151 395.5h7M179 395.5h31M490 395.5h10M154 396.5h4M179 396.5h31M490 396.5h10M155 397.5h4M179 397.5h31M490 397.5h10M157 398.5h3M178 398.5h32M490 398.5h10M159 399.5h2M176 399.5h34M490 399.5h10M169 400.5h41M490 400.5h10M170 401.5h41M491 401.5h9M171 402.5h40M491 402.5h9M171 403.5h40M491 403.5h9M172 404.5h40M492 404.5h8M173 405.5h40M493 405.5h7M174 406.5h39M494 406.5h6M175 407.5h39M495 407.5h5M177 408.5h37M497 408.5h3M179 409.5h36M499 409.5h1M181 410.5h34M184 411.5h32M185 412.5h31M186 413.5h31M187 414.5h32M188 415.5h33M188 416.5h35M189 417.5h35M189 418.5h35M190 419.5h35M190 420.5h35M190 421.5h36M190 422.5h36M190 423.5h37M190 424.5h39M190 425.5h41M190 426.5h43M190 427.5h44M190 428.5h44M190 429.5h45M190 430.5h45M190 431.5h46M190 432.5h46M190 433.5h47M190 434.5h49M190 435.5h51M190 436.5h53M190 437.5h54M190 438.5h54M190 439.5h55M190 440.5h19M231 440.5h14M190 441.5h16M234 441.5h12M190 442.5h15M235 442.5h11M190 443.5h14M236 443.5h11M190 444.5h13M237 444.5h12M190 445.5h12M238 445.5h13M190 446.5h12M238 446.5h15M190 447.5h11M239 447.5h15M191 448.5h11M240 448.5h14M192 449.5h11M240 449.5h15M208 450.5h3M242 450.5h13M209 451.5h5M244 451.5h12M210 452.5h5M245 452.5h11M210 453.5h6M246 453.5h10M210 454.5h7M247 454.5h10M210 455.5h8M248 455.5h10M210 456.5h8M248 456.5h10M210 457.5h9M249 457.5h10M210 458.5h9M249 458.5h10M210 459.5h10M250 459.5h10M210 460.5h10M250 460.5h10M210 461.5h10M250 461.5h10M210 462.5h10M250 462.5h10M210 463.5h10M250 463.5h10M210 464.5h10M250 464.5h10M210 465.5h10M250 465.5h10M210 466.5h10M250 466.5h10M210 467.5h10M250 467.5h10M210 468.5h10M250 468.5h10M210 469.5h10M250 469.5h10M210 470.5h10M250 470.5h10M489 470.5h11M210 471.5h10M250 471.5h10M486 471.5h1M488 471.5h12M210 472.5h10M250 472.5h10M489 472.5h11M210 473.5h10M250 473.5h10M490 473.5h10M210 474.5h10M250 474.5h10M490 474.5h10M210 475.5h10M250 475.5h10M490 475.5h10M210 476.5h10M250 476.5h10M490 476.5h10M210 477.5h10M250 477.5h10M490 477.5h10M210 478.5h10M250 478.5h10M490 478.5h10M210 479.5h10M250 479.5h10M490 479.5h10"/>
<path stroke="#CD0000" d="M380 0.5h120M381 1.5h119M381 2.5h119M381 3.5h119M382 4.5h118M383 5.5h117M383 6.5h117M384 7.5h116M384 8.5h116M385 9.5h115M385 10.5h115M386 11.5h114M386 12.5h114M387 13.5h113M389 14.5h111M391 15.5h109M393 16.5h107M394 17.5h106M394 18.5h106M395 19.5h105M395 20.5h105M396 21.5h104M396 22.5h104M396 23.5h104M397 24.5h103M398 25.5h102M398 26.5h102M399 27.5h101M399 28.5h101M400 29.5h100M400 30.5h100M401 31.5h99M401 32.5h99M401 33.5h99M402 34.5h98M403 35.5h97M404 36.5h96M405 37.5h95M407 38.5h93M409 39.5h91M411 40.5h88M414 41.5h82M415 42.5h80M416 43.5h78M417 44.5h76M418 45.5h74M418 46.5h73M419 47.5h72M419 48.5h72M420 49.5h71M420 50.5h71M421 51.5h70M421 52.5h70M421 53.5h70M422 54.5h70M423 55.5h70M423 56.5h71M424 57.5h71M424 58.5h73M425 59.5h74M425 60.5h75M426 61.5h74M426 62.5h74M426 63.5h74M427 64.5h73M428 65.5h72M428 66.5h72M429 67.5h71M429 68.5h71M430 69.5h70M430 70.5h70M430 71.5h70M430 72.5h70M430 73.5h70M430 74.5h70M430 75.5h70M430 76.5h70M430 77.5h70M430 78.5h70M430 79.5h70M430 80.5h70M430 81.5h70M430 82.5h70M430 83.5h70M430 84.5h70M430 85.5h70M430 86.5h70M430 87.5h70M430 88.5h70M430 89.5h70M430 90.5h70M430 91.5h70M430 92.5h70M430 93.5h70M430 94.5h70M430 95.5h70M430 96.5h70M430 97.5h70M430 98.5h70M430 99.5h70M430 100.5h70M429 101.5h71M429 102.5h71M428 103.5h72M427 104.5h73M427 105.5h73M426 106.5h74M424 107.5h76M423 108.5h77M421 109.5h79M419 110.5h81M416 111.5h84M415 112.5h85M413 113.5h87M411 114.5h89M409 115.5h91M407 116.5h93M406 117.5h94M406 118.5h94M405 119.5h95M405 120.5h95M404 121.5h96M404 122.5h96M403 123.5h97M403 124.5h97M402 125.5h98M401 126.5h99M401 127.5h99M401 128.5h99M401 129.5h99M401 130.5h48M401 131.5h45M401 132.5h44M401 133.5h43M402 134.5h41M403 135.5h39M403 136.5h38M404 137.5h37M404 138.5h37M405 139.5h36M405 140.5h36M406 141.5h35M406 142.5h35M406 143.5h35M407 144.5h35M408 145.5h35M408 146.5h36M409 147.5h36M410 148.5h37M411 149.5h38M421 150.5h50M424 151.5h50M425 152.5h50M427 153.5h50M429 154.5h50M431 155.5h50M433 156.5h51M434 157.5h51M434 158.5h53M435 159.5h54M435 160.5h65M436 161.5h64M436 162.5h64M437 163.5h63M439 164.5h61M441 165.5h59M444 166.5h56M445 167.5h55M447 168.5h53M449 169.5h51M461 170.5h39M464 171.5h36M465 172.5h35M467 173.5h33M469 174.5h31M471 175.5h29M474 176.5h26M475 177.5h25M477 178.5h23M479 179.5h21M206 211.5h8M205 212.5h10M203 213.5h14M201 214.5h18M199 215.5h22M197 216.5h27M196 217.5h29M196 218.5h31M195 219.5h34M195 220.5h36M194 221.5h40M194 222.5h41M193 223.5h43M193 224.5h44M192 225.5h46M191 226.5h47M191 227.5h48M191 228.5h48M190 229.5h50M190 230.5h50M190 231.5h50M290 231.5h3M190 232.5h50M289 232.5h6M190 233.5h50M288 233.5h8M190 234.5h50M287 234.5h10M190 235.5h50M287 235.5h11M190 236.5h50M286 236.5h12M190 237.5h50M284 237.5h15M190 238.5h50M283 238.5h16M190 239.5h50M281 239.5h19M190 240.5h50M259 240.5h41M189 241.5h51M256 241.5h45M189 242.5h51M255 242.5h46M188 243.5h52M254 243.5h47M188 244.5h52M253 244.5h49M187 245.5h53M252 245.5h51M186 246.5h55M251 246.5h53M186 247.5h55M249 247.5h56M186 248.5h56M248 248.5h59M185 249.5h124M0 250.5h1M185 250.5h126M0 251.5h4M126 251.5h8M184 251.5h130M0 252.5h5M125 252.5h10M184 252.5h131M0 253.5h7M123 253.5h14M183 253.5h134M0 254.5h9M121 254.5h18M181 254.5h138M0 255.5h11M119 255.5h22M179 255.5h142M0 256.5h13M116 256.5h28M176 256.5h148M0 257.5h14M115 257.5h30M175 257.5h150M0 258.5h14M114 258.5h33M173 258.5h154M0 259.5h15M113 259.5h36M171 259.5h158M0 260.5h15M112 260.5h249M0 261.5h16M41 261.5h8M111 261.5h190M309 261.5h55M0 262.5h16M40 262.5h10M111 262.5h189M310 262.5h55M0 263.5h17M39 263.5h12M111 263.5h188M311 263.5h56M0 264.5h19M38 264.5h14M111 264.5h187M312 264.5h57M0 265.5h21M37 265.5h16M111 265.5h186M313 265.5h58M0 266.5h24M36 266.5h18M111 266.5h185M314 266.5h59M0 267.5h25M34 267.5h21M111 267.5h183M315 267.5h59M0 268.5h27M33 268.5h24M111 268.5h182M317 268.5h57M0 269.5h58M112 269.5h179M319 269.5h56M0 270.5h59M113 270.5h176M366 270.5h9M0 271.5h60M114 271.5h98M218 271.5h14M238 271.5h48M368 271.5h8M0 272.5h60M115 272.5h96M219 272.5h12M239 272.5h46M369 272.5h7M0 273.5h60M117 273.5h94M219 273.5h12M239 273.5h44M369 273.5h7M0 274.5h60M119 274.5h91M220 274.5h10M239 274.5h42M369 274.5h8M0 275.5h60M121 275.5h89M220 275.5h10M239 275.5h40M369 275.5h9M0 276.5h60M123 276.5h87M221 276.5h8M239 276.5h38M369 276.5h9M0 277.5h60M124 277.5h86M221 277.5h8M239 277.5h37M369 277.5h10M0 278.5h60M124 278.5h86M222 278.5h6M238 278.5h38M368 278.5h11M0 279.5h59M125 279.5h85M237 279.5h38M367 279.5h13M0 280.5h58M125 280.5h85M237 280.5h38M367 280.5h13M0 281.5h26M34 281.5h22M126 281.5h85M236 281.5h38M366 281.5h15M0 282.5h25M35 282.5h20M126 282.5h85M235 282.5h39M365 282.5h16M0 283.5h24M36 283.5h18M127 283.5h84M234 283.5h39M364 283.5h17M0 284.5h23M37 284.5h16M129 284.5h83M233 284.5h40M363 284.5h19M0 285.5h22M38 285.5h14M131 285.5h82M232 285.5h40M362 285.5h21M0 286.5h21M39 286.5h12M133 286.5h81M231 286.5h40M361 286.5h22M0 287.5h21M40 287.5h9M134 287.5h81M229 287.5h42M361 287.5h23M0 288.5h21M42 288.5h6M134 288.5h83M228 288.5h43M361 288.5h23M0 289.5h21M135 289.5h84M226 289.5h44M361 289.5h24M0 290.5h21M135 290.5h135M361 290.5h24M0 291.5h21M136 291.5h133M361 291.5h25M0 292.5h21M136 292.5h133M361 292.5h25M0 293.5h21M136 293.5h132M361 293.5h25M0 294.5h22M137 294.5h131M362 294.5h25M0 295.5h23M138 295.5h129M363 295.5h25M0 296.5h24M138 296.5h128M364 296.5h24M0 297.5h25M139 297.5h127M365 297.5h24M0 298.5h27M139 298.5h127M367 298.5h23M0 299.5h29M140 299.5h125M369 299.5h21M0 300.5h36M140 300.5h125M391 300.5h1M0 301.5h38M141 301.5h123M0 302.5h39M141 302.5h123M0 303.5h39M141 303.5h122M0 304.5h39M142 304.5h119M0 305.5h39M143 305.5h116M0 306.5h39M143 306.5h114M0 307.5h39M144 307.5h112M0 308.5h38M144 308.5h112M399 308.5h1M0 309.5h36M145 309.5h110M400 309.5h1M0 310.5h29M145 310.5h110M400 310.5h18M0 311.5h26M146 311.5h108M401 311.5h18M0 312.5h25M146 312.5h108M401 312.5h19M0 313.5h24M147 313.5h106M401 313.5h19M0 314.5h23M149 314.5h102M402 314.5h18M0 315.5h22M151 315.5h98M403 315.5h17M0 316.5h21M154 316.5h92M404 316.5h16M0 317.5h21M155 317.5h90M405 317.5h15M0 318.5h21M157 318.5h86M407 318.5h14M0 319.5h20M159 319.5h82M409 319.5h13M18 320.5h2M161 320.5h78M429 320.5h30M19 321.5h1M164 321.5h72M430 321.5h30M165 322.5h70M431 322.5h30M166 323.5h67M431 323.5h30M167 324.5h64M432 324.5h30M168 325.5h61M433 325.5h30M168 326.5h59M434 326.5h29M169 327.5h57M435 327.5h29M20 328.5h1M169 328.5h57M437 328.5h27M20 329.5h2M170 329.5h55M439 329.5h26M20 330.5h31M58 330.5h3M170 330.5h55M451 330.5h14M21 331.5h29M59 331.5h5M170 331.5h54M454 331.5h12M21 332.5h28M60 332.5h5M170 332.5h54M455 332.5h11M21 333.5h27M60 333.5h6M170 333.5h53M457 333.5h10M22 334.5h25M60 334.5h7M170 334.5h51M459 334.5h10M23 335.5h24M60 335.5h8M170 335.5h49M461 335.5h10M24 336.5h22M60 336.5h8M170 336.5h46M463 336.5h10M25 337.5h19M60 337.5h9M170 337.5h45M464 337.5h10M27 338.5h16M60 338.5h9M170 338.5h43M464 338.5h10M29 339.5h12M60 339.5h10M171 339.5h40M465 339.5h10M60 340.5h10M172 340.5h37M465 340.5h10M60 341.5h11M174 341.5h32M466 341.5h10M60 342.5h11M175 342.5h30M466 342.5h10M60 343.5h11M177 343.5h27M466 343.5h10M60 344.5h12M179 344.5h24M467 344.5h10M60 345.5h13M181 345.5h21M468 345.5h10M60 346.5h13M183 346.5h18M468 346.5h10M60 347.5h14M184 347.5h17M469 347.5h10M60 348.5h14M184 348.5h17M469 348.5h10M60 349.5h15M185 349.5h15M470 349.5h10M60 350.5h15M185 350.5h15M470 350.5h10M60 351.5h16M186 351.5h14M471 351.5h10M60 352.5h16M186 352.5h14M471 352.5h10M60 353.5h17M186 353.5h14M471 353.5h10M60 354.5h19M187 354.5h13M472 354.5h10M60 355.5h21M188 355.5h12M473 355.5h10M60 356.5h23M188 356.5h12M473 356.5h10M60 357.5h24M189 357.5h11M474 357.5h10M60 358.5h24M189 358.5h11M474 358.5h10M60 359.5h25M190 359.5h10M475 359.5h10M60 360.5h25M190 360.5h10M232 360.5h9M475 360.5h10M60 361.5h26M191 361.5h10M231 361.5h13M476 361.5h10M60 362.5h26M191 362.5h10M230 362.5h15M476 362.5h10M60 363.5h26M191 363.5h10M230 363.5h16M476 363.5h10M60 364.5h27M192 364.5h10M230 364.5h17M477 364.5h10M60 365.5h28M193 365.5h10M230 365.5h17M478 365.5h10M60 366.5h28M193 366.5h10M230 366.5h18M478 366.5h10M60 367.5h29M194 367.5h10M230 367.5h18M479 367.5h10M60 368.5h30M194 368.5h10M231 368.5h17M479 368.5h10M60 369.5h31M195 369.5h10M232 369.5h15M480 369.5h10M60 370.5h19M99 370.5h9M195 370.5h10M480 370.5h10M60 371.5h16M100 371.5h9M196 371.5h10M480 371.5h10M60 372.5h15M101 372.5h9M196 372.5h10M480 372.5h10M60 373.5h14M101 373.5h9M196 373.5h10M480 373.5h10M60 374.5h13M102 374.5h8M197 374.5h10M480 374.5h10M60 375.5h12M103 375.5h7M198 375.5h10M480 375.5h10M60 376.5h11M104 376.5h6M198 376.5h10M480 376.5h10M60 377.5h11M105 377.5h5M199 377.5h10M480 377.5h10M61 378.5h9M107 378.5h4M199 378.5h10M480 378.5h10M62 379.5h7M109 379.5h3M200 379.5h10M480 379.5h10M119 380.5h20M200 380.5h10M480 380.5h10M120 381.5h20M201 381.5h9M480 381.5h10M121 382.5h20M201 382.5h9M480 382.5h10M121 383.5h20M201 383.5h9M480 383.5h10M122 384.5h20M202 384.5h8M480 384.5h10M123 385.5h20M203 385.5h7M480 385.5h10M124 386.5h19M204 386.5h6M480 386.5h10M125 387.5h19M205 387.5h5M480 387.5h10M127 388.5h17M207 388.5h3M480 388.5h10M129 389.5h16M208 389.5h2M480 389.5h10M131 390.5h14M209 390.5h1M480 390.5h10M134 391.5h12M480 391.5h10M135 392.5h11M480 392.5h10M137 393.5h10M480 393.5h10M139 394.5h10M480 394.5h10M141 395.5h10M480 395.5h10M143 396.5h11M480 396.5h10M144 397.5h11M480 397.5h10M144 398.5h13M480 398.5h10M145 399.5h14M210 399.5h1M480 399.5h10M145 400.5h24M210 400.5h2M480 400.5h10M146 401.5h24M211 401.5h3M480 401.5h11M146 402.5h25M211 402.5h4M480 402.5h11M147 403.5h24M211 403.5h6M480 403.5h11M149 404.5h23M212 404.5h7M480 404.5h12M151 405.5h22M213 405.5h8M480 405.5h13M154 406.5h20M213 406.5h10M480 406.5h14M155 407.5h20M214 407.5h10M480 407.5h15M157 408.5h20M214 408.5h10M480 408.5h17M159 409.5h20M215 409.5h10M481 409.5h18M161 410.5h20M215 410.5h10M482 410.5h18M164 411.5h20M216 411.5h10M484 411.5h16M165 412.5h20M216 412.5h10M485 412.5h15M167 413.5h19M217 413.5h10M487 413.5h13M169 414.5h18M219 414.5h10M489 414.5h11M171 415.5h17M221 415.5h10M491 415.5h9M173 416.5h15M223 416.5h10M494 416.5h6M174 417.5h15M224 417.5h10M495 417.5h5M174 418.5h15M224 418.5h10M497 418.5h3M175 419.5h15M225 419.5h10M499 419.5h1M175 420.5h15M225 420.5h10M264 420.5h13M176 421.5h14M226 421.5h10M262 421.5h16M176 422.5h14M226 422.5h10M261 422.5h17M176 423.5h14M227 423.5h10M261 423.5h17M177 424.5h13M229 424.5h10M261 424.5h16M178 425.5h12M231 425.5h10M261 425.5h16M178 426.5h12M233 426.5h10M261 426.5h15M179 427.5h11M234 427.5h10M261 427.5h13M179 428.5h11M234 428.5h10M262 428.5h11M180 429.5h10M235 429.5h10M264 429.5h7M180 430.5h10M235 430.5h10M181 431.5h9M236 431.5h10M181 432.5h9M236 432.5h10M181 433.5h9M237 433.5h10M182 434.5h8M239 434.5h10M183 435.5h7M241 435.5h10M184 436.5h6M243 436.5h10M185 437.5h5M244 437.5h10M187 438.5h3M244 438.5h10M188 439.5h2M245 439.5h10M189 440.5h1M245 440.5h10M329 440.5h7M499 440.5h1M246 441.5h10M326 441.5h12M496 441.5h4M246 442.5h10M325 442.5h14M495 442.5h5M247 443.5h10M324 443.5h15M493 443.5h7M249 444.5h10M323 444.5h16M491 444.5h9M251 445.5h10M322 445.5h17M489 445.5h11M253 446.5h11M322 446.5h17M487 446.5h13M254 447.5h11M321 447.5h18M486 447.5h14M190 448.5h1M254 448.5h13M322 448.5h16M486 448.5h14M190 449.5h2M255 449.5h13M323 449.5h13M485 449.5h15M190 450.5h18M255 450.5h14M485 450.5h15M190 451.5h19M256 451.5h14M484 451.5h16M190 452.5h20M256 452.5h14M484 452.5h16M190 453.5h20M256 453.5h14M483 453.5h17M190 454.5h20M257 454.5h13M483 454.5h17M190 455.5h20M258 455.5h12M482 455.5h18M190 456.5h20M258 456.5h12M481 456.5h19M190 457.5h20M259 457.5h11M481 457.5h19M191 458.5h19M259 458.5h11M481 458.5h19M192 459.5h18M260 459.5h10M480 459.5h20M208 460.5h2M260 460.5h10M480 460.5h20M209 461.5h1M260 461.5h10M479 461.5h21M260 462.5h10M479 462.5h21M260 463.5h10M478 463.5h22M260 464.5h10M478 464.5h22M260 465.5h10M477 465.5h23M260 466.5h10M476 466.5h24M260 467.5h10M476 467.5h24M260 468.5h10M476 468.5h24M260 469.5h10M475 469.5h25M260 470.5h10M475 470.5h14M192 471.5h6M260 471.5h10M474 471.5h12M191 472.5h8M260 472.5h10M474 472.5h11M191 473.5h8M260 473.5h10M473 473.5h11M190 474.5h10M260 474.5h10M473 474.5h10M190 475.5h10M260 475.5h10M472 475.5h10M190 476.5h10M260 476.5h10M471 476.5h10M190 477.5h10M260 477.5h10M471 477.5h10M190 478.5h10M260 478.5h10M471 478.5h10M190 479.5h10M260 479.5h10M470 479.5h10"/>
<path stroke="#00A000" d="M6 14.5h8M4 15.5h9M2 16.5h11M2 17.5h10M2 18.5h9M2 19.5h8M2 20.5h7M2 21.5h6M2 22.5h5M3 23.5h3M3 24.5h1"/>
<path stroke="#8B008B" d="M0 330.5h6M0 331.5h8M0 332.5h9M0 333.5h9M0 334.5h9M0 335.5h9M0 336.5h9M0 337.5h9M0 338.5h8M0 339.5h6M24 350.5h17M22 351.5h22M232 351.5h6M21 352.5h24M231 352.5h8M21 353.5h25M231 353.5h8M21 354.5h26M230 354.5h10M21 355.5h27M230 355.5h10M21 356.5h27M230 356.5h10M21 357.5h28M230 357.5h10M21 358.5h28M231 358.5h8M22 359.5h28M232 359.5h6M23 360.5h27M24 361.5h26M261 361.5h7M25 362.5h25M260 362.5h9M27 363.5h23M259 363.5h10M29 364.5h21M258 364.5h12M31 365.5h19M257 365.5h13M33 366.5h17M256 366.5h14M34 367.5h16M254 367.5h16M34 368.5h16M253 368.5h17M35 369.5h15M251 369.5h19M35 370.5h15M229 370.5h41M36 371.5h15M226 371.5h44M36 372.5h15M225 372.5h45M36 373.5h15M224 373.5h46M37 374.5h15M223 374.5h47M38 375.5h15M222 375.5h48M38 376.5h16M221 376.5h49M39 377.5h16M221 377.5h49M39 378.5h18M221 378.5h49M40 379.5h19M221 379.5h49M40 380.5h29M221 380.5h49M41 381.5h29M221 381.5h21M248 381.5h23M41 382.5h30M221 382.5h20M249 382.5h22M41 383.5h30M221 383.5h20M249 383.5h22M42 384.5h30M222 384.5h19M249 384.5h23M43 385.5h30M223 385.5h18M249 385.5h24M44 386.5h30M223 386.5h18M249 386.5h24M45 387.5h30M224 387.5h17M249 387.5h25M47 388.5h29M224 388.5h18M248 388.5h26M49 389.5h28M225 389.5h50M51 390.5h27M225 390.5h50M54 391.5h25M226 391.5h50M55 392.5h25M226 392.5h50M57 393.5h24M226 393.5h51M59 394.5h23M227 394.5h52M61 395.5h22M228 395.5h53M64 396.5h20M228 396.5h56M65 397.5h20M229 397.5h56M67 398.5h20M229 398.5h58M69 399.5h20M230 399.5h59M71 400.5h40M230 400.5h71M74 401.5h40M231 401.5h73M477 401.5h1M75 402.5h40M231 402.5h74M475 402.5h4M76 403.5h41M231 403.5h76M473 403.5h7M77 404.5h42M232 404.5h77M471 404.5h9M78 405.5h43M233 405.5h78M469 405.5h11M79 406.5h45M233 406.5h81M467 406.5h13M80 407.5h45M234 407.5h81M466 407.5h14M82 408.5h45M234 408.5h83M466 408.5h14M84 409.5h45M235 409.5h84M465 409.5h15M91 410.5h50M235 410.5h86M465 410.5h15M94 411.5h50M236 411.5h25M268 411.5h56M464 411.5h16M95 412.5h50M236 412.5h24M269 412.5h56M464 412.5h16M97 413.5h50M237 413.5h22M269 413.5h58M463 413.5h17M99 414.5h50M239 414.5h19M270 414.5h59M463 414.5h17M101 415.5h50M241 415.5h16M270 415.5h61M462 415.5h18M104 416.5h49M244 416.5h12M270 416.5h64M461 416.5h19M105 417.5h49M245 417.5h9M270 417.5h65M461 417.5h19M107 418.5h47M247 418.5h6M271 418.5h66M461 418.5h19M109 419.5h46M272 419.5h67M460 419.5h20M121 420.5h34M281 420.5h60M460 420.5h20M124 421.5h32M284 421.5h60M460 421.5h20M125 422.5h31M285 422.5h60M460 422.5h20M126 423.5h31M287 423.5h60M460 423.5h20M127 424.5h32M289 424.5h60M460 424.5h20M128 425.5h33M291 425.5h60M460 425.5h20M128 426.5h26M158 426.5h5M294 426.5h60M460 426.5h20M129 427.5h24M159 427.5h5M295 427.5h60M460 427.5h20M129 428.5h24M160 428.5h4M297 428.5h60M460 428.5h20M130 429.5h23M160 429.5h5M299 429.5h60M460 429.5h20M130 430.5h23M160 430.5h5M331 430.5h40M460 430.5h20M131 431.5h22M160 431.5h6M334 431.5h40M460 431.5h19M131 432.5h22M159 432.5h7M335 432.5h40M460 432.5h19M131 433.5h23M159 433.5h8M337 433.5h40M460 433.5h18M132 434.5h37M339 434.5h40M460 434.5h18M133 435.5h38M341 435.5h40M460 435.5h17M134 436.5h39M344 436.5h39M460 436.5h16M135 437.5h39M345 437.5h39M460 437.5h16M137 438.5h37M346 438.5h38M460 438.5h16M139 439.5h36M347 439.5h38M460 439.5h15M141 440.5h34M279 440.5h12M348 440.5h37M460 440.5h15M144 441.5h32M276 441.5h18M348 441.5h38M460 441.5h14M145 442.5h31M275 442.5h20M349 442.5h37M460 442.5h14M147 443.5h30M274 443.5h23M349 443.5h38M460 443.5h13M149 444.5h30M273 444.5h26M349 444.5h40M460 444.5h12M151 445.5h30M272 445.5h29M349 445.5h42M460 445.5h12M153 446.5h31M271 446.5h33M349 446.5h44M461 446.5h10M154 447.5h31M271 447.5h34M349 447.5h45M461 447.5h8M154 448.5h33M271 448.5h36M348 448.5h46M462 448.5h6M155 449.5h33M270 449.5h39M347 449.5h48M155 450.5h34M270 450.5h58M347 450.5h48M156 451.5h34M270 451.5h59M346 451.5h50M156 452.5h34M270 452.5h60M345 452.5h51M157 453.5h33M270 453.5h60M344 453.5h53M159 454.5h31M270 454.5h60M343 454.5h56M161 455.5h29M270 455.5h60M342 455.5h59M164 456.5h26M270 456.5h61M341 456.5h62M165 457.5h25M270 457.5h61M339 457.5h65M167 458.5h22M270 458.5h62M338 458.5h66M169 459.5h19M270 459.5h135M270 460.5h29M316 460.5h89M270 461.5h26M318 461.5h88M270 462.5h25M319 462.5h87M270 463.5h24M319 463.5h87M270 464.5h23M319 464.5h88M270 465.5h22M319 465.5h89M270 466.5h21M319 466.5h89M270 467.5h21M319 467.5h90M270 468.5h21M318 468.5h91M270 469.5h20M317 469.5h93M270 470.5h20M317 470.5h93M270 471.5h20M316 471.5h94M270 472.5h20M315 472.5h95M270 473.5h20M314 473.5h96M270 474.5h20M313 474.5h97M270 475.5h20M312 475.5h98M270 476.5h20M311 476.5h99M270 477.5h20M311 477.5h99M270 478.5h20M311 478.5h99M270 479.5h20M310 479.5h100"/>
<path stroke="#BA55D3" d="M242 381.5h6M241 382.5h8M241 383.5h8M241 384.5h8M241 385.5h8M241 386.5h8M241 387.5h8M242 388.5h6M154 426.5h4M153 427.5h6M153 428.5h7M153 429.5h7M153 430.5h7M153 431.5h7M153 432.5h6M154 433.5h5M299 460.5h17M296 461.5h22M295 462.5h24M294 463.5h25M293 464.5h26M292 465.5h27M291 466.5h28M291 467.5h28M291 468.5h27M290 469.5h27M290 470.5h27M290 471.5h26M290 472.5h25M290 473.5h24M290 474.5h23M290 475.5h22M290 476.5h21M290 477.5h21M290 478.5h21M290 479.5h20"/>
</g>
<g stroke="#8c8c8c" stroke-width="1" stroke-dasharray="2 4" fill="none"><line x1="77.0" y1="2" x2="77.0" y2="478"/><line x1="137.2" y1="2" x2="137.2" y2="478"/><line x1="197.5" y1="2" x2="197.5" y2="478"/><line x1="257.7" y1="2" x2="257.7" y2="478"/><line x1="318.0" y1="2" x2="318.0" y2="478"/><line x1="378.3" y1="2" x2="378.3" y2="478"/><line x1="438.5" y1="2" x2="438.5" y2="478"/><line x1="16.7" y1="2" x2="16.7" y2="478"/><line x1="1" y1="425.4" x2="499" y2="425.4"/><line x1="1" y1="351.6" x2="499" y2="351.6"/><line x1="1" y1="277.8" x2="499" y2="277.8"/><line x1="1" y1="204.1" x2="499" y2="204.1"/><line x1="1" y1="130.3" x2="499" y2="130.3"/><line x1="1" y1="56.5" x2="499" y2="56.5"/></g>
<g fill="none" stroke="#606c74" stroke-width="2" stroke-linejoin="round" shape-rendering="auto"><polyline points="38.1,2.5 44.3,5.2 53.6,7.8 63.9,9.3 76.3,12.0 88.7,14.4 103.1,16.1 115.5,17.5 120.0,18.1 124.9,18.1"/><polyline points="120.0,18.1 112.4,23.7 103.1,28.9 99.4,33.0 101.0,38.1 109.3,40.2 114.4,43.3 110.3,49.5 106.2,54.6 109.3,57.7 113.4,56.7 113.0,61.9 111.3,68.0 115.5,71.1 124.9,75.3"/><polyline points="111.3,71.1 101.0,78.4 90.7,75.3 82.5,73.2 80.4,79.4 70.1,84.5 59.8,89.7 51.5,90.7 47.4,88.7 41.2,88.7 33.0,94.8 26.8,103.1 24.7,109.3 27.8,117.5 30.9,120.0"/><polyline points="34.0,105.2 38.1,99.0 44.3,93.8 50.5,90.7"/><polyline points="124.9,85.6 119.6,88.7 111.3,93.8 107.2,92.8 108.2,103.1 111.3,111.3 112.4,120.0"/><polyline points="125.0,18.1 135.3,19.0 144.6,22.7 155.9,23.7 168.3,24.7 176.5,22.3 182.7,18.6 186.9,13.4 193.0,9.3 203.4,7.8 217.8,7.2 232.2,6.2 242.5,3.7 249.9,2.5"/><polyline points="249.9,36.1 240.5,37.1 235.3,40.2 233.9,46.4 237.4,50.5 240.5,53.6 239.4,61.9 237.4,68.0 230.2,69.1 221.9,71.1 215.7,75.3 214.7,79.4 217.8,81.4 215.7,85.6 214.7,90.7 211.6,95.9 206.4,97.3 201.3,95.3 195.1,93.8 188.9,94.8 184.8,95.9 179.6,90.7 174.5,83.5 172.0,80.8 169.3,83.5 166.2,88.7 162.1,92.8 153.9,94.4 143.6,95.3 133.2,95.9 125.0,96.5"/><polyline points="148.7,120.0 151.8,112.4 155.9,105.2 162.1,106.2 168.3,110.3 171.4,112.4 169.3,120.0"/><polyline points="125.0,75.3 128.1,78.4 130.2,82.5 127.1,86.6 125.0,87.6"/><polyline points="278.9,2.5 283.0,9.3 288.1,17.5 294.3,20.6 301.5,24.7 308.8,30.9 311.9,36.1 318.0,39.2 326.3,42.3 331.4,48.5 333.5,54.6 338.7,59.8 346.9,60.8 353.1,61.9 357.2,67.0 363.4,70.1 374.9,71.8"/><polyline points="250.0,36.1 256.2,30.9 262.4,26.8 269.6,24.7 272.7,18.6 278.9,16.5 288.1,18.1"/><polyline points="283.0,120.0 289.2,114.4 297.4,113.4 305.7,115.5 311.9,110.3 318.0,113.4 328.4,117.5 338.7,119.2 344.8,120.0"/><polyline points="250.0,112.4 258.2,114.4 262.4,120.0"/><polyline points="375.0,71.8 387.4,72.2 399.7,74.6 405.9,73.2 414.2,67.0 424.5,63.9 434.8,59.8 445.1,55.3 455.4,55.7 463.7,50.5 470.9,44.3 482.2,43.7 492.5,44.3 498.7,43.7"/><polyline points="426.5,64.3 434.8,71.1 435.8,79.4 431.7,87.6 436.9,90.7 443.0,91.8 441.0,94.8 436.9,101.0 441.0,105.2 449.2,109.3 459.5,112.4 463.7,114.4 457.5,115.5 450.3,113.8 446.1,120.0"/><polyline points="34.0,120.0 37.1,125.2 43.3,129.3 48.5,132.4 47.4,137.5 42.3,142.7 39.2,144.7 38.1,140.6 33.0,141.6 30.5,146.8 30.5,155.1 32.0,165.4 35.1,175.7 39.2,186.0 46.4,195.3 55.7,202.5 66.0,206.6 76.3,212.8 84.5,219.0 92.8,225.2 103.1,231.3 111.3,234.4 113.4,240.0"/><polygon points="40.2,207.6 42.3,204.9 45.8,205.6 45.8,209.1 42.9,211.1 40.2,209.7"/><polyline points="113.4,120.0 119.6,128.2 124.9,134.4"/><polyline points="125.0,134.4 128.1,141.6 132.2,137.5 137.4,134.4 143.6,131.3 147.7,124.1 149.7,120.0"/><polyline points="155.9,120.0 159.0,128.2 158.0,135.5 155.9,140.6 158.0,150.9 160.1,159.2 166.2,167.8 168.7,166.4 167.3,156.1 165.2,148.9 163.1,140.6 162.1,132.4 160.1,126.2 161.1,120.0"/><polyline points="176.5,120.0 180.7,124.1 186.9,122.1 188.9,128.2 189.9,136.5 188.9,144.7 191.0,153.0 196.1,159.2 201.3,165.4 207.5,171.5 213.7,177.7 219.8,181.9 228.1,183.9"/><polygon points="180.7,152.0 186.9,158.1 195.1,166.4 201.3,173.6 206.4,181.9 213.7,180.8 214.7,183.9 207.5,184.9 203.4,181.9 197.2,171.5 188.9,161.2 182.7,155.1"/><polyline points="201.3,181.9 207.5,190.1 213.7,198.4 221.9,204.5 230.2,210.7 238.4,217.9 244.6,222.1 249.9,225.2"/><polygon points="187.9,191.1 193.0,197.3 199.2,203.5 205.4,210.7 209.5,211.8 208.5,208.7 201.3,201.4 195.1,195.3 189.9,190.1"/><polyline points="249.9,150.9 242.5,144.7 241.5,136.5 243.6,128.2 242.5,120.0"/><polyline points="262.4,120.0 266.5,125.2 272.7,129.3 276.8,128.2 282.0,122.1 284.0,120.0"/><polyline points="250.0,150.9 255.2,153.0 259.3,159.2 264.4,167.4 268.6,175.7 267.5,181.9 265.5,187.0 272.7,190.1 278.9,197.3 287.1,202.5 295.4,210.7 303.6,219.0 309.8,227.2 316.0,234.4 322.2,238.6 324.2,240.0"/><polyline points="340.7,120.0 349.0,121.6 357.2,121.0 365.5,123.1 371.6,125.2 374.9,124.1"/><polyline points="250.0,225.2 254.1,229.3 252.1,235.5 254.1,240.0"/><polyline points="268.6,240.0 274.7,237.5 283.0,238.6"/><polyline points="375.0,124.1 383.2,122.1 391.5,123.1 397.7,120.0"/><polyline points="397.7,120.0 408.0,122.1 418.3,126.2 425.5,130.3 424.5,135.5 430.7,139.6 438.9,140.6 443.0,138.6 449.2,136.5 457.5,136.5 460.6,139.6 458.5,146.8 455.4,154.0 451.3,160.2 446.1,164.3 445.1,171.5 446.1,179.8 451.3,183.9 459.5,188.0 465.7,193.2 471.9,197.3 476.0,201.4 471.9,206.6 463.7,207.6 455.4,203.5 452.9,202.5 453.4,206.6 457.5,211.8 463.7,216.9 467.8,223.1 468.8,229.3 465.7,235.5 457.5,238.6 451.3,239.6 447.2,238.6 438.9,236.5 434.8,240.0"/><polyline points="446.1,120.0 444.1,126.2 439.9,132.4 438.9,139.6"/><polyline points="113.4,240.0 118.6,248.2 123.7,258.6 124.9,260.6"/><polyline points="0.0,341.0 4.1,347.2 10.3,348.2 16.5,352.4 22.7,360.0"/><polyline points="125.0,263.7 128.1,277.1 133.2,291.5 139.4,303.9 147.7,314.2 155.9,321.4 164.2,330.7 172.4,335.9 178.6,339.0 179.6,345.2 184.8,349.3 193.0,351.3 199.2,354.4 207.5,356.5 217.8,357.5 232.2,357.9 249.9,357.5"/><polyline points="287.1,240.0 293.3,243.1 303.6,246.2 311.9,249.3 318.0,255.5 324.2,261.6 332.5,265.8 340.7,270.9 349.0,276.1 355.2,279.2 358.2,277.1 357.2,272.0 351.0,266.8 342.8,260.6 336.6,255.5 333.5,249.3 332.5,243.1 329.4,240.0"/><polyline points="356.2,280.2 365.5,284.3 371.6,289.5 374.9,293.6"/><polygon points="282.0,250.3 286.1,248.7 297.4,249.3 307.7,251.3 310.8,254.4 307.7,257.5 297.4,258.6 287.1,257.5 282.6,254.4"/><polygon points="279.9,262.7 287.1,260.6 299.5,262.3 311.9,265.8 323.2,266.4 324.2,268.9 311.9,269.3 299.5,267.8 287.1,265.8 280.9,264.3"/><polygon points="295.4,278.1 303.6,279.2 311.9,280.2 320.1,278.1 327.3,279.2 326.3,282.3 318.0,283.7 309.8,284.3 301.5,282.3 296.4,280.2"/><polyline points="318.0,277.1 326.3,274.0 334.5,276.1 342.8,280.2 351.0,282.3 357.2,284.3 365.5,286.4 373.7,293.6"/><polygon points="336.6,292.6 342.8,291.5 353.1,294.6 361.3,297.7 362.4,300.2 353.1,298.1 342.8,295.7 337.6,294.6"/><polygon points="259.9,273.0 263.4,270.9 269.6,270.9 271.6,273.0 269.6,276.1 263.4,277.1 260.3,275.5"/><polyline points="250.0,353.8 258.2,354.4 264.4,357.5 266.5,360.0"/><polyline points="375.0,293.6 383.2,298.8 391.5,303.9 399.7,306.0 404.9,311.1 405.9,317.3 409.0,320.4 416.2,321.4 422.4,325.6 428.6,329.7 434.8,336.9 441.0,343.1 446.1,347.2 447.2,353.4 453.4,357.5 459.5,358.6"/><polyline points="409.0,317.3 419.3,316.7 420.4,320.0 414.2,320.8 412.1,322.5"/><polyline points="434.8,240.0 438.9,246.2 443.0,253.4 442.0,258.6 436.9,256.5 432.7,251.3 426.5,252.4 420.4,258.6 417.3,266.8 415.2,274.0 408.0,278.1 405.9,285.4 407.0,293.6 412.1,299.8 409.0,306.0 404.9,311.1"/><polyline points="451.3,240.0 457.5,246.2 465.7,252.4 474.0,259.6 480.2,264.7 488.4,266.8 499.9,270.9"/><polyline points="459.5,358.6 460.6,345.2 456.4,336.9 459.5,328.7 465.7,320.4 471.9,312.2 476.0,306.0 482.2,301.9 483.2,308.0 487.4,314.2 493.6,313.2 499.9,309.1"/><polyline points="24.7,360.0 30.9,367.2 39.2,376.5 47.4,384.7 55.7,390.9 66.0,394.0 73.2,398.1 77.3,404.3 82.5,406.4 90.7,403.3 101.0,404.3 111.3,405.4 119.6,408.5 124.9,410.5"/><polyline points="125.0,410.5 129.1,412.6 135.3,414.6 137.4,428.0 141.5,436.3 146.6,438.4 152.8,436.3 159.0,439.4 164.2,442.5 162.1,448.7 159.0,451.8 164.2,453.8 172.4,451.8 180.7,448.7 186.9,452.8 191.0,457.9 194.1,465.2 196.1,472.4 194.1,477.5 193.0,480.0"/><polyline points="267.5,360.0 268.6,366.2 262.4,372.4 254.1,377.5 251.0,380.6 253.1,386.8 258.2,393.0 266.5,397.1 276.8,402.3 287.1,407.4 297.4,411.5 307.7,414.6 318.0,418.8 328.4,421.9 334.5,426.0 340.7,432.2 349.0,438.4 359.3,442.5 369.6,446.6 374.9,449.1"/><polyline points="303.6,478.6 308.8,471.3 313.9,465.2 320.1,461.0 328.4,460.0 336.6,462.1 332.5,465.2 330.4,467.2 336.6,472.4 346.9,474.4 357.2,476.5 369.6,477.9"/><polyline points="456.4,360.0 461.6,361.6 468.8,361.0 474.0,364.1 474.0,374.4 469.8,382.7 465.7,390.9 464.7,400.2 468.8,404.3 467.8,411.5 464.7,419.8 468.8,426.0 469.8,431.1 463.7,434.2 461.6,442.5 457.5,450.7 461.6,454.8 466.8,459.0 468.8,467.2 465.7,473.4 461.6,472.4 458.5,466.2 455.8,467.2 457.5,472.4 461.6,477.5 463.7,480.0"/><polyline points="375.0,449.1 379.1,451.8 382.2,459.0 389.4,465.2 397.7,471.3 403.9,478.6"/><polyline points="106.2,93.5 113.8,96.8 125.7,96.3 131.1,95.7"/></g>
</svg>
<div style="position:absolute;left:119px;top:50px;width:497px;height:477px;border:2px solid #000;"></div>
<div style="position:absolute;left:516px;top:52px;width:102px;height:41px;background:#fff;border-left:1px solid #000;border-bottom:1px solid #000;box-sizing:border-box"></div>
<div style="position:absolute;top:61.28px;font-size:21.4px;line-height:20px;white-space:pre;color:#1a38ff;left:547.18px;transform:scaleX(0.9481);transform-origin:0 0;">DHMZ</div><div style="position:absolute;top:62.14px;font-size:19.5px;line-height:20px;white-space:pre;color:#1a38ff;left:529.39px;transform:scaleX(1.0473);transform-origin:0 0;">©</div>
<div style="position:absolute;left:121px;top:465px;width:135px;height:64px;background:#fff;border-top:1px solid #000;border-right:1px solid #000;box-sizing:border-box"></div>
<div style="position:absolute;top:470.03px;font-size:10px;line-height:20px;white-space:pre;left:148.50px;letter-spacing:0.760px;">Temperatura</div><div style="position:absolute;top:470.03px;font-size:10px;line-height:20px;white-space:pre;left:220.30px;letter-spacing:0.800px;">zraka</div><div style="position:absolute;top:483.53px;font-size:10px;line-height:20px;white-space:pre;left:172.15px;letter-spacing:0.000px;">na</div><div style="position:absolute;top:483.53px;font-size:10px;line-height:20px;white-space:pre;left:190.40px;letter-spacing:2.550px;">2m</div><div style="position:absolute;top:483.53px;font-size:10px;line-height:20px;white-space:pre;left:213.60px;letter-spacing:0.800px;">(st.</div><div style="position:absolute;top:483.53px;font-size:10px;line-height:20px;white-space:pre;left:236.90px;letter-spacing:1.150px;">C)</div><div style="position:absolute;top:497.23px;font-size:10px;line-height:20px;white-space:pre;left:137.35px;letter-spacing:1.288px;">start</div><div style="position:absolute;top:497.23px;font-size:10px;line-height:20px;white-space:pre;left:167.35px;letter-spacing:1.159px;">00z16may2012</div><div style="position:absolute;top:510.44px;font-size:10px;line-height:20px;white-space:pre;left:129.25px;letter-spacing:1.020px;">termin</div><div style="position:absolute;top:510.44px;font-size:10px;line-height:20px;white-space:pre;left:168.15px;letter-spacing:0.800px;">15Z16MAY2012</div>
<div style="position:absolute;left:652px;top:77px;width:15px;height:19px;background:#FFEFDF"></div><div style="position:absolute;left:652px;top:96px;width:15px;height:19px;background:#D8BFD8"></div><div style="position:absolute;left:652px;top:115px;width:15px;height:18px;background:#DDA0DD"></div><div style="position:absolute;left:652px;top:133px;width:15px;height:19px;background:#BA55D3"></div><div style="position:absolute;left:652px;top:152px;width:15px;height:18px;background:#8B008B"></div><div style="position:absolute;left:652px;top:170px;width:15px;height:19px;background:#960000"></div><div style="position:absolute;left:652px;top:189px;width:15px;height:19px;background:#CD0000"></div><div style="position:absolute;left:652px;top:208px;width:15px;height:18px;background:#FF0000"></div><div style="position:absolute;left:652px;top:226px;width:15px;height:19px;background:#FF5500"></div><div style="position:absolute;left:652px;top:245px;width:15px;height:19px;background:#F08228"></div><div style="position:absolute;left:652px;top:264px;width:15px;height:18px;background:#E6AF2D"></div><div style="position:absolute;left:652px;top:282px;width:15px;height:19px;background:#E6DC32"></div><div style="position:absolute;left:652px;top:301px;width:15px;height:18px;background:#F5F064"></div><div style="position:absolute;left:652px;top:319px;width:15px;height:19px;background:#E4F5A8"></div><div style="position:absolute;left:652px;top:338px;width:15px;height:19px;background:#A0E632"></div><div style="position:absolute;left:652px;top:357px;width:15px;height:18px;background:#00DC00"></div><div style="position:absolute;left:652px;top:375px;width:15px;height:19px;background:#00A50A"></div><div style="position:absolute;left:652px;top:394px;width:15px;height:19px;background:#007800"></div><div style="position:absolute;left:652px;top:413px;width:15px;height:18px;background:#1E3CFF"></div><div style="position:absolute;left:652px;top:431px;width:15px;height:19px;background:#00A0E6"></div><div style="position:absolute;left:652px;top:450px;width:15px;height:18px;background:#B0E0E6"></div><div style="position:absolute;left:652px;top:468px;width:15px;height:19px;background:#F0FFFF"></div><div style="position:absolute;top:66.50px;font-size:13px;line-height:20px;white-space:pre;left:669.35px;letter-spacing:1.505px;">29</div><div style="position:absolute;top:85.50px;font-size:13px;line-height:20px;white-space:pre;left:669.35px;letter-spacing:1.505px;">27</div><div style="position:absolute;top:104.50px;font-size:13px;line-height:20px;white-space:pre;left:669.35px;letter-spacing:1.440px;">25</div><div style="position:absolute;top:122.50px;font-size:13px;line-height:20px;white-space:pre;left:669.35px;letter-spacing:1.440px;">23</div><div style="position:absolute;top:141.50px;font-size:13px;line-height:20px;white-space:pre;left:669.35px;letter-spacing:1.505px;">21</div><div style="position:absolute;top:159.50px;font-size:13px;line-height:20px;white-space:pre;left:669.02px;letter-spacing:1.830px;">19</div><div style="position:absolute;top:178.50px;font-size:13px;line-height:20px;white-space:pre;left:669.02px;letter-spacing:1.830px;">17</div><div style="position:absolute;top:197.50px;font-size:13px;line-height:20px;white-space:pre;left:669.02px;letter-spacing:1.765px;">15</div><div style="position:absolute;top:215.50px;font-size:13px;line-height:20px;white-space:pre;left:669.02px;letter-spacing:1.765px;">13</div><div style="position:absolute;top:234.50px;font-size:13px;line-height:20px;white-space:pre;left:669.02px;letter-spacing:2.805px;">11</div><div style="position:absolute;top:253.50px;font-size:13px;line-height:20px;white-space:pre;left:669.70px;transform:scaleX(1.0256);transform-origin:0 0;">9</div><div style="position:absolute;top:271.50px;font-size:13px;line-height:20px;white-space:pre;left:669.63px;transform:scaleX(1.0368);transform-origin:0 0;">7</div><div style="position:absolute;top:290.50px;font-size:13px;line-height:20px;white-space:pre;left:669.78px;transform:scaleX(1.0040);transform-origin:0 0;">5</div><div style="position:absolute;top:308.50px;font-size:13px;line-height:20px;white-space:pre;left:669.85px;transform:scaleX(0.9936);transform-origin:0 0;">3</div><div style="position:absolute;top:327.50px;font-size:13px;line-height:20px;white-space:pre;left:669.23px;transform:scaleX(1.0964);transform-origin:0 0;">1</div><div style="position:absolute;top:346.50px;font-size:13px;line-height:20px;white-space:pre;left:670.17px;transform:scaleX(1.2432);transform-origin:0 0;">−</div><div style="position:absolute;top:346.50px;font-size:13px;line-height:20px;white-space:pre;left:681.41px;transform:scaleX(0.6012);transform-origin:0 0;">1</div><div style="position:absolute;top:364.50px;font-size:13px;line-height:20px;white-space:pre;left:670.17px;transform:scaleX(1.2432);transform-origin:0 0;">−</div><div style="position:absolute;top:364.50px;font-size:13px;line-height:20px;white-space:pre;left:680.56px;transform:scaleX(0.9776);transform-origin:0 0;">3</div><div style="position:absolute;top:383.50px;font-size:13px;line-height:20px;white-space:pre;left:670.17px;transform:scaleX(1.2432);transform-origin:0 0;">−</div><div style="position:absolute;top:383.50px;font-size:13px;line-height:20px;white-space:pre;left:680.49px;transform:scaleX(0.9879);transform-origin:0 0;">5</div><div style="position:absolute;top:402.50px;font-size:13px;line-height:20px;white-space:pre;left:670.17px;transform:scaleX(1.2432);transform-origin:0 0;">−</div><div style="position:absolute;top:402.50px;font-size:13px;line-height:20px;white-space:pre;left:680.34px;transform:scaleX(1.0201);transform-origin:0 0;">7</div><div style="position:absolute;top:420.50px;font-size:13px;line-height:20px;white-space:pre;left:670.17px;transform:scaleX(1.2432);transform-origin:0 0;">−</div><div style="position:absolute;top:420.50px;font-size:13px;line-height:20px;white-space:pre;left:680.41px;transform:scaleX(1.0091);transform-origin:0 0;">9</div><div style="position:absolute;top:439.50px;font-size:13px;line-height:20px;white-space:pre;left:670.17px;transform:scaleX(1.2432);transform-origin:0 0;">−</div><div style="position:absolute;top:439.50px;font-size:13px;line-height:20px;white-space:pre;left:681.42px;letter-spacing:0.805px;">11</div><div style="position:absolute;top:457.50px;font-size:13px;line-height:20px;white-space:pre;left:670.17px;transform:scaleX(1.2432);transform-origin:0 0;">−</div><div style="position:absolute;top:457.50px;font-size:13px;line-height:20px;white-space:pre;left:681.42px;letter-spacing:-0.235px;">13</div><div style="position:absolute;top:476.50px;font-size:13px;line-height:20px;white-space:pre;left:670.17px;transform:scaleX(1.2432);transform-origin:0 0;">−</div><div style="position:absolute;top:476.50px;font-size:13px;line-height:20px;white-space:pre;left:681.42px;letter-spacing:-0.235px;">15</div><div style="position:absolute;top:495.10px;font-size:13px;line-height:20px;white-space:pre;left:670.17px;transform:scaleX(1.2432);transform-origin:0 0;">−</div><div style="position:absolute;top:495.10px;font-size:13px;line-height:20px;white-space:pre;left:681.42px;letter-spacing:-0.170px;">17</div><div style="position:absolute;top:515.74px;font-size:10px;line-height:20px;white-space:pre;left:664.00px;letter-spacing:1.458px;">(st. C)</div>
<div style="position:absolute;top:530.09px;font-size:11px;line-height:20px;white-space:pre;left:128.31px;transform:scaleX(0.8379);transform-origin:0 0;">12E</div><div style="position:absolute;left:136px;top:531px;width:1px;height:3px;background:#000"></div><div style="position:absolute;top:530.09px;font-size:11px;line-height:20px;white-space:pre;left:188.57px;transform:scaleX(0.8379);transform-origin:0 0;">13E</div><div style="position:absolute;left:196px;top:531px;width:1px;height:3px;background:#000"></div><div style="position:absolute;top:530.09px;font-size:11px;line-height:20px;white-space:pre;left:248.83px;transform:scaleX(0.8379);transform-origin:0 0;">14E</div><div style="position:absolute;left:257px;top:531px;width:1px;height:3px;background:#000"></div><div style="position:absolute;top:530.09px;font-size:11px;line-height:20px;white-space:pre;left:309.09px;transform:scaleX(0.8379);transform-origin:0 0;">15E</div><div style="position:absolute;left:317px;top:531px;width:1px;height:3px;background:#000"></div><div style="position:absolute;top:530.09px;font-size:11px;line-height:20px;white-space:pre;left:369.35px;transform:scaleX(0.8379);transform-origin:0 0;">16E</div><div style="position:absolute;left:377px;top:531px;width:1px;height:3px;background:#000"></div><div style="position:absolute;top:530.09px;font-size:11px;line-height:20px;white-space:pre;left:429.61px;transform:scaleX(0.8379);transform-origin:0 0;">17E</div><div style="position:absolute;left:438px;top:531px;width:1px;height:3px;background:#000"></div><div style="position:absolute;top:530.09px;font-size:11px;line-height:20px;white-space:pre;left:489.87px;transform:scaleX(0.8379);transform-origin:0 0;">18E</div><div style="position:absolute;left:498px;top:531px;width:1px;height:3px;background:#000"></div><div style="position:absolute;top:530.09px;font-size:11px;line-height:20px;white-space:pre;left:550.13px;transform:scaleX(0.8379);transform-origin:0 0;">19E</div><div style="position:absolute;left:558px;top:531px;width:1px;height:3px;background:#000"></div><div style="position:absolute;top:530.09px;font-size:11px;line-height:20px;white-space:pre;left:610.63px;transform:scaleX(0.8255);transform-origin:0 0;">20E</div><div style="position:absolute;left:618px;top:531px;width:1px;height:3px;background:#000"></div><div style="position:absolute;top:465.79px;font-size:11px;line-height:20px;white-space:pre;left:96.70px;transform:scaleX(0.9170);transform-origin:0 0;">41N</div><div style="position:absolute;left:116px;top:475px;width:3px;height:1px;background:#000"></div><div style="position:absolute;top:392.01px;font-size:11px;line-height:20px;white-space:pre;left:96.70px;transform:scaleX(0.9170);transform-origin:0 0;">42N</div><div style="position:absolute;left:116px;top:401px;width:3px;height:1px;background:#000"></div><div style="position:absolute;top:318.23px;font-size:11px;line-height:20px;white-space:pre;left:96.70px;transform:scaleX(0.9170);transform-origin:0 0;">43N</div><div style="position:absolute;left:116px;top:327px;width:3px;height:1px;background:#000"></div><div style="position:absolute;top:244.45px;font-size:11px;line-height:20px;white-space:pre;left:96.70px;transform:scaleX(0.9170);transform-origin:0 0;">44N</div><div style="position:absolute;left:116px;top:254px;width:3px;height:1px;background:#000"></div><div style="position:absolute;top:170.67px;font-size:11px;line-height:20px;white-space:pre;left:96.70px;transform:scaleX(0.9170);transform-origin:0 0;">45N</div><div style="position:absolute;left:116px;top:180px;width:3px;height:1px;background:#000"></div><div style="position:absolute;top:96.89px;font-size:11px;line-height:20px;white-space:pre;left:96.70px;transform:scaleX(0.9170);transform-origin:0 0;">46N</div><div style="position:absolute;left:116px;top:106px;width:3px;height:1px;background:#000"></div>
</body></html>
